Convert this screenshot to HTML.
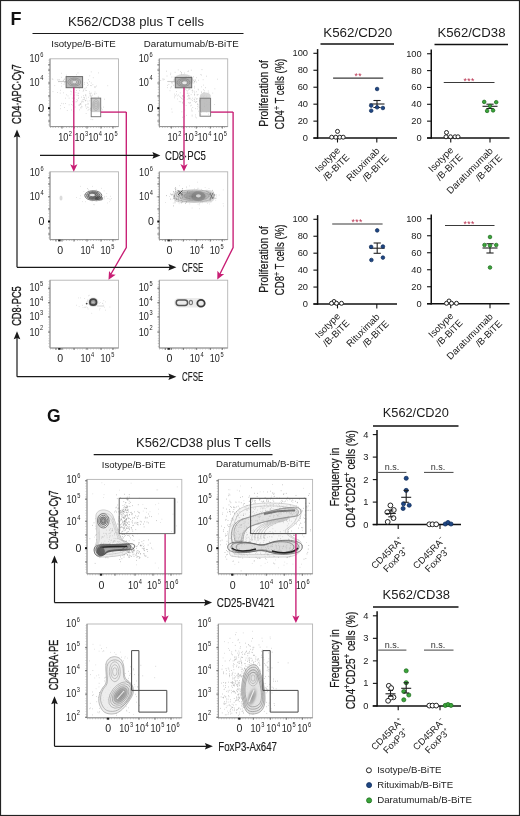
<!DOCTYPE html><html><head><meta charset="utf-8"><style>html,body{margin:0;padding:0;background:#fff;}svg{display:block;will-change:transform;}</style></head><body>
<svg width="520" height="816" viewBox="0 0 520 816" font-family='"Liberation Sans", sans-serif'>
<rect x="0" y="0" width="520" height="816" fill="#fff"/>
<defs><radialGradient id="gblob"><stop offset="0" stop-color="#555"/><stop offset="0.55" stop-color="#888"/><stop offset="1" stop-color="#ccc" stop-opacity="0"/></radialGradient><radialGradient id="gfaint"><stop offset="0" stop-color="#aaa"/><stop offset="1" stop-color="#ddd" stop-opacity="0"/></radialGradient></defs>
<rect x="0.5" y="0.5" width="519" height="815" fill="none" stroke="#222" stroke-width="1.2"/>
<text x="10.6" y="24.7" font-size="18" text-anchor="start" fill="#111" font-weight="bold" >F</text>
<text x="68" y="25.8" font-size="12" text-anchor="start" fill="#1a1a1a" textLength="136" lengthAdjust="spacingAndGlyphs" >K562/CD38 plus T cells</text>
<line x1="32.5" y1="33.5" x2="243.5" y2="33.5" stroke="#1a1a1a" stroke-width="1.1" />
<text x="51.2" y="46.5" font-size="8.7" text-anchor="start" fill="#1a1a1a" textLength="64.6" lengthAdjust="spacingAndGlyphs" >Isotype/B-BiTE</text>
<text x="143.75" y="46.5" font-size="8.7" text-anchor="start" fill="#1a1a1a" textLength="94.9" lengthAdjust="spacingAndGlyphs" >Daratumumab/B-BiTE</text>
<rect x="50" y="58.8" width="68.5" height="67.8" fill="none" stroke="#b4b4b4" stroke-width="0.9"/>
<line x1="50" y1="58.8" x2="50" y2="126.6" stroke="#8a8a8a" stroke-width="0.9" />
<line x1="50" y1="126.6" x2="118.5" y2="126.6" stroke="#8a8a8a" stroke-width="0.9" />
<line x1="49.1" y1="59.8" x2="49.1" y2="126.6" stroke="#aaa" stroke-width="1.2" stroke-dasharray="0.6 2.1"/>
<line x1="50" y1="127.5" x2="117.5" y2="127.5" stroke="#aaa" stroke-width="1.2" stroke-dasharray="0.6 2.1"/>
<line x1="48" y1="64.8" x2="50" y2="64.8" stroke="#555" stroke-width="0.8" />
<line x1="48" y1="70" x2="50" y2="70" stroke="#555" stroke-width="0.8" />
<line x1="48" y1="83" x2="50" y2="83" stroke="#555" stroke-width="0.8" />
<line x1="48" y1="96" x2="50" y2="96" stroke="#555" stroke-width="0.8" />
<line x1="48" y1="115" x2="50" y2="115" stroke="#555" stroke-width="0.8" />
<line x1="48" y1="121" x2="50" y2="121" stroke="#555" stroke-width="0.8" />
<line x1="62" y1="126.6" x2="62" y2="128.6" stroke="#555" stroke-width="0.8" />
<line x1="74" y1="126.6" x2="74" y2="128.6" stroke="#555" stroke-width="0.8" />
<line x1="87" y1="126.6" x2="87" y2="128.6" stroke="#555" stroke-width="0.8" />
<line x1="101" y1="126.6" x2="101" y2="128.6" stroke="#555" stroke-width="0.8" />
<line x1="113" y1="126.6" x2="113" y2="128.6" stroke="#555" stroke-width="0.8" />
<rect x="48" y="107.2" width="2" height="2" fill="#111"/>
<text transform="translate(29.50 61.9) scale(0.86 1)" font-size="10.6" fill="#1e1e1e">10<tspan font-size="6.6" dx="0.7" dy="-5.2">6</tspan></text>
<text transform="translate(29.50 85.5) scale(0.86 1)" font-size="10.6" fill="#1e1e1e">10<tspan font-size="6.6" dx="0.7" dy="-5.2">4</tspan></text>
<text transform="translate(38.30 111.9) scale(1.0 1)" font-size="10.6" fill="#1e1e1e">0</text>
<text transform="translate(58.15 141.2) scale(0.86 1)" font-size="10.6" fill="#1e1e1e">10<tspan font-size="6.6" dx="0.7" dy="-5.2">2</tspan></text>
<text transform="translate(74.40 141.2) scale(0.86 1)" font-size="10.6" fill="#1e1e1e">10<tspan font-size="6.6" dx="0.7" dy="-5.2">3</tspan></text>
<text transform="translate(88.15 141.2) scale(0.86 1)" font-size="10.6" fill="#1e1e1e">10<tspan font-size="6.6" dx="0.7" dy="-5.2">4</tspan></text>
<text transform="translate(103.80 141.2) scale(0.86 1)" font-size="10.6" fill="#1e1e1e">10<tspan font-size="6.6" dx="0.7" dy="-5.2">5</tspan></text>
<rect x="159.3" y="58.8" width="68.39999999999998" height="67.8" fill="none" stroke="#b4b4b4" stroke-width="0.9"/>
<line x1="159.3" y1="58.8" x2="159.3" y2="126.6" stroke="#8a8a8a" stroke-width="0.9" />
<line x1="159.3" y1="126.6" x2="227.7" y2="126.6" stroke="#8a8a8a" stroke-width="0.9" />
<line x1="158.4" y1="59.8" x2="158.4" y2="126.6" stroke="#aaa" stroke-width="1.2" stroke-dasharray="0.6 2.1"/>
<line x1="159.3" y1="127.5" x2="226.7" y2="127.5" stroke="#aaa" stroke-width="1.2" stroke-dasharray="0.6 2.1"/>
<line x1="157.3" y1="64.8" x2="159.3" y2="64.8" stroke="#555" stroke-width="0.8" />
<line x1="157.3" y1="70" x2="159.3" y2="70" stroke="#555" stroke-width="0.8" />
<line x1="157.3" y1="83" x2="159.3" y2="83" stroke="#555" stroke-width="0.8" />
<line x1="157.3" y1="96" x2="159.3" y2="96" stroke="#555" stroke-width="0.8" />
<line x1="157.3" y1="115" x2="159.3" y2="115" stroke="#555" stroke-width="0.8" />
<line x1="157.3" y1="121" x2="159.3" y2="121" stroke="#555" stroke-width="0.8" />
<line x1="171.3" y1="126.6" x2="171.3" y2="128.6" stroke="#555" stroke-width="0.8" />
<line x1="183.3" y1="126.6" x2="183.3" y2="128.6" stroke="#555" stroke-width="0.8" />
<line x1="196.3" y1="126.6" x2="196.3" y2="128.6" stroke="#555" stroke-width="0.8" />
<line x1="210.3" y1="126.6" x2="210.3" y2="128.6" stroke="#555" stroke-width="0.8" />
<line x1="222.3" y1="126.6" x2="222.3" y2="128.6" stroke="#555" stroke-width="0.8" />
<rect x="157.3" y="107.2" width="2" height="2" fill="#111"/>
<text transform="translate(138.80 61.9) scale(0.86 1)" font-size="10.6" fill="#1e1e1e">10<tspan font-size="6.6" dx="0.7" dy="-5.2">6</tspan></text>
<text transform="translate(138.80 85.5) scale(0.86 1)" font-size="10.6" fill="#1e1e1e">10<tspan font-size="6.6" dx="0.7" dy="-5.2">4</tspan></text>
<text transform="translate(147.60 111.9) scale(1.0 1)" font-size="10.6" fill="#1e1e1e">0</text>
<text transform="translate(167.45 141.2) scale(0.86 1)" font-size="10.6" fill="#1e1e1e">10<tspan font-size="6.6" dx="0.7" dy="-5.2">2</tspan></text>
<text transform="translate(183.70 141.2) scale(0.86 1)" font-size="10.6" fill="#1e1e1e">10<tspan font-size="6.6" dx="0.7" dy="-5.2">3</tspan></text>
<text transform="translate(197.45 141.2) scale(0.86 1)" font-size="10.6" fill="#1e1e1e">10<tspan font-size="6.6" dx="0.7" dy="-5.2">4</tspan></text>
<text transform="translate(213.10 141.2) scale(0.86 1)" font-size="10.6" fill="#1e1e1e">10<tspan font-size="6.6" dx="0.7" dy="-5.2">5</tspan></text>
<path d="M77.4 100.6h.6M77.7 93.2h.6M70.7 94.1h.6M91.1 99.8h.6M90.4 98.2h.6M83.9 97.7h.6M63.3 103.7h.6M85.1 100.5h.6M63.1 80.3h.6M71.1 91.8h.6M83.1 95.6h.6M85.2 90.2h.6M83.1 99.5h.6M73.4 111.5h.6M85.6 106.8h.6M73.8 89.3h.6M76.6 95.0h.6M86.3 98.2h.6M75.5 87.4h.6M74.8 107.0h.6M71.9 98.2h.6M84.3 82.6h.6M80.5 107.8h.6M59.9 93.1h.6M78.9 88.6h.6M85.0 95.4h.6M65.4 103.5h.6M86.7 104.5h.6M94.4 99.3h.6M81.2 84.3h.6M86.2 90.5h.6M75.5 84.6h.6M70.3 91.2h.6M92.9 77.7h.6M65.4 98.2h.6M94.4 101.2h.6M61.0 73.3h.6M83.6 89.4h.6M68.8 104.8h.6M91.0 97.4h.6M82.5 99.9h.6M95.9 101.6h.6M85.2 100.9h.6M64.3 107.5h.6M89.6 100.8h.6M60.3 90.3h.6M88.4 79.7h.6M78.2 105.2h.6M66.9 110.5h.6M85.5 94.6h.6M83.2 101.8h.6M81.2 106.3h.6M73.4 92.3h.6M90.4 96.2h.6M71.2 104.5h.6M94.7 92.0h.6M66.2 94.8h.6M78.5 93.3h.6M94.0 86.8h.6M92.6 84.6h.6M72.1 101.7h.6M91.3 103.7h.6M83.5 97.3h.6M81.5 101.2h.6M78.2 98.5h.6M85.7 96.0h.6M87.6 101.1h.6M100.1 98.9h.6M75.7 92.6h.6M79.9 104.3h.6M76.6 99.5h.6M98.4 72.9h.6M68.8 98.2h.6M84.0 98.1h.6M75.7 101.9h.6M82.8 91.3h.6M104.3 99.2h.6M74.5 95.1h.6M77.7 95.4h.6M52.7 91.6h.6M90.1 85.5h.6M79.3 104.6h.6M88.6 109.4h.6M63.0 92.8h.6M76.6 101.6h.6M90.9 71.9h.6M90.9 83.0h.6M86.8 82.6h.6M81.8 106.8h.6M78.5 97.7h.6M88.0 97.3h.6M79.1 109.8h.6M90.5 93.4h.6M107.5 85.7h.6M89.1 93.6h.6M81.3 102.3h.6M82.2 101.7h.6M64.7 82.4h.6M86.1 87.3h.6M69.7 82.8h.6M92.7 102.7h.6M94.7 87.6h.6M80.0 85.7h.6M87.7 110.3h.6M71.1 110.0h.6M89.9 94.4h.6M60.3 108.7h.6M79.0 90.6h.6M84.0 99.7h.6M95.0 86.8h.6M91.4 109.4h.6M94.5 94.4h.6M72.6 105.2h.6M81.2 97.1h.6M94.2 93.6h.6M57.0 92.5h.6M61.5 103.4h.6M83.2 90.5h.6M79.9 103.5h.6M80.8 107.9h.6M79.4 105.4h.6M94.9 110.5h.6M73.3 103.9h.6M61.2 86.2h.6M60.4 105.6h.6M67.7 95.9h.6M78.1 95.7h.6M74.1 98.1h.6M97.9 96.4h.6M85.3 105.0h.6M70.2 77.6h.6M67.0 85.8h.6M57.2 79.9h.6M81.1 84.8h.6M72.1 84.8h.6M73.5 77.9h.6M57.9 79.8h.6M80.3 80.0h.6M63.9 79.3h.6M58.2 81.6h.6M61.4 83.3h.6M66.2 75.2h.6M78.5 81.0h.6M51.9 78.9h.6M74.6 80.4h.6M79.0 84.6h.6M78.0 83.1h.6M84.0 84.3h.6M76.1 74.7h.6M80.1 86.6h.6M69.3 80.4h.6M89.5 75.8h.6M76.2 90.5h.6M63.7 84.4h.6M89.0 81.6h.6M77.1 85.2h.6M63.8 81.7h.6M74.6 84.9h.6M71.7 81.3h.6M62.9 80.7h.6M80.0 82.4h.6M64.3 79.1h.6M96.0 86.0h.6M77.7 72.9h.6M77.6 83.7h.6M87.2 83.5h.6M71.4 83.8h.6M54.5 85.6h.6M74.9 79.5h.6M83.9 88.3h.6M59.4 79.7h.6M74.6 82.6h.6M68.4 78.6h.6M91.1 85.6h.6M61.3 77.3h.6M87.3 85.5h.6M88.4 84.8h.6M64.2 82.9h.6M52.6 79.4h.6M91.6 107.1h.6M87.6 103.3h.6M94.8 106.3h.6M95.8 105.3h.6M90.1 108.7h.6M92.3 99.0h.6M88.2 104.0h.6M91.3 104.9h.6M92.0 105.1h.6M91.2 96.4h.6M94.5 110.3h.6M94.6 102.9h.6M94.7 98.2h.6M80.6 104.4h.6M86.4 108.4h.6M85.5 88.2h.6M85.8 113.5h.6M89.7 95.8h.6M87.4 107.1h.6M95.0 105.1h.6M100.9 108.2h.6M91.9 107.6h.6M101.9 109.8h.6M98.1 97.5h.6M91.1 108.4h.6M90.2 110.4h.6M95.6 109.4h.6M90.7 119.3h.6M99.4 102.7h.6M92.5 119.6h.6M89.9 109.2h.6M97.9 104.0h.6M85.0 105.1h.6M94.2 110.8h.6M96.7 104.1h.6M97.1 107.2h.6M93.2 104.3h.6M90.5 108.1h.6M85.7 100.2h.6M92.0 95.2h.6M89.4 91.9h.6M87.9 107.4h.6M95.4 103.7h.6M90.6 95.5h.6M103.0 107.1h.6M98.6 98.7h.6M90.9 93.1h.6M96.7 109.6h.6M80.6 103.7h.6M95.8 93.4h.6" stroke="#aaa" stroke-width="0.6" opacity="1.0" fill="none"/>
<path d="M58 81.5 H66" stroke="#ccc" stroke-width="1.1"/>
<path d="M171.0 86.4h.6M183.0 83.4h.6M189.6 98.2h.6M195.6 102.3h.6M204.3 106.5h.6M176.2 91.5h.6M178.7 86.3h.6M188.5 96.0h.6M194.2 81.7h.6M176.9 95.8h.6M187.3 93.2h.6M188.7 89.2h.6M196.3 99.2h.6M188.4 90.0h.6M187.6 71.5h.6M179.5 96.3h.6M174.3 97.8h.6M190.8 83.6h.6M186.8 93.2h.6M193.9 101.5h.6M188.9 88.3h.6M187.9 95.4h.6M196.6 98.6h.6M182.1 83.8h.6M185.6 89.3h.6M178.2 95.0h.6M184.4 96.9h.6M194.5 92.3h.6M212.5 93.1h.6M200.3 97.1h.6M200.5 74.6h.6M181.8 98.2h.6M195.3 117.0h.6M192.5 107.5h.6M197.0 104.5h.6M194.4 94.6h.6M194.4 86.3h.6M201.1 86.8h.6M191.8 115.1h.6M187.1 96.2h.6M200.9 96.2h.6M181.2 98.3h.6M195.1 102.4h.6M181.6 111.8h.6M206.0 96.2h.6M192.0 92.1h.6M203.4 89.7h.6M196.0 91.7h.6M182.4 102.5h.6M202.6 95.9h.6M182.5 103.3h.6M188.8 98.8h.6M204.5 106.2h.6M184.1 116.6h.6M189.3 103.1h.6M182.8 95.6h.6M171.8 112.1h.6M203.0 85.1h.6M174.2 81.4h.6M201.1 91.9h.6M188.7 93.2h.6M188.1 86.2h.6M189.5 83.1h.6M188.6 98.8h.6M194.0 93.9h.6M180.3 97.4h.6M184.5 110.1h.6M197.0 95.0h.6M184.6 89.7h.6M179.9 92.8h.6M192.2 100.6h.6M195.0 114.9h.6M182.3 96.1h.6M217.2 79.2h.6M184.1 97.5h.6M190.8 99.7h.6M186.9 99.3h.6M189.8 102.9h.6M170.4 88.0h.6M189.3 86.7h.6M178.9 101.6h.6M182.8 101.7h.6M196.8 98.8h.6M194.4 95.1h.6M175.2 95.7h.6M193.8 91.2h.6M188.3 102.7h.6M180.5 101.8h.6M207.9 91.0h.6M190.8 94.6h.6M204.7 98.8h.6M198.3 89.8h.6M189.1 95.9h.6M171.5 109.0h.6M198.3 80.3h.6M196.7 94.8h.6M193.8 99.3h.6M174.3 94.1h.6M204.2 90.8h.6M179.1 83.8h.6M177.1 99.0h.6M206.2 99.9h.6M191.8 116.1h.6M184.1 89.9h.6M194.6 100.9h.6M179.2 85.5h.6M192.2 98.2h.6M176.2 94.2h.6M183.9 100.1h.6M188.1 95.2h.6M185.8 105.5h.6M203.2 92.7h.6M197.8 89.2h.6M190.0 102.7h.6M204.4 92.6h.6M188.6 97.8h.6M174.3 96.1h.6M182.5 99.3h.6M178.0 78.2h.6M189.7 98.3h.6M183.8 104.0h.6M186.6 90.5h.6M194.1 81.9h.6M182.5 95.8h.6M197.8 94.5h.6M192.4 90.1h.6M192.3 111.0h.6M182.4 117.3h.6M182.9 96.2h.6M191.0 105.2h.6M170.2 74.6h.6M186.8 84.8h.6M186.9 91.2h.6M183.1 82.9h.6M189.7 83.3h.6M196.3 77.7h.6M177.9 69.9h.6M188.6 80.7h.6M189.6 89.5h.6M181.2 81.1h.6M176.8 79.1h.6M175.6 84.2h.6M181.6 82.2h.6M179.7 85.2h.6M185.7 81.5h.6M187.3 81.5h.6M170.9 87.1h.6M185.5 78.6h.6M191.0 83.2h.6M167.2 87.6h.6M184.3 85.1h.6M183.1 81.5h.6M167.4 85.4h.6M181.6 81.0h.6M184.5 82.3h.6M187.4 80.7h.6M181.0 74.5h.6M177.5 84.4h.6M193.3 80.7h.6M180.2 87.5h.6M178.4 84.6h.6M196.4 82.1h.6M192.3 79.5h.6M183.2 81.7h.6M182.3 86.0h.6M202.8 79.7h.6M176.1 83.7h.6M171.8 83.7h.6M186.4 81.0h.6M186.1 76.6h.6M188.1 76.6h.6M175.0 80.1h.6M177.7 85.0h.6M182.0 80.6h.6M186.2 87.5h.6M181.4 83.3h.6M192.5 82.9h.6M169.7 90.7h.6M201.2 75.1h.6M180.9 83.5h.6M207.1 108.0h.6M199.7 97.7h.6M201.9 110.2h.6M194.8 97.8h.6M201.2 92.4h.6M199.7 101.4h.6M204.0 99.8h.6M196.0 101.6h.6M201.0 100.0h.6M201.4 108.5h.6M208.4 114.2h.6M196.6 101.5h.6M186.4 115.4h.6M197.0 103.8h.6M204.4 95.8h.6M204.1 103.8h.6M190.3 105.8h.6M208.5 92.8h.6M206.1 105.3h.6M204.1 106.6h.6M209.1 102.7h.6M206.5 101.5h.6M205.7 99.1h.6M200.6 114.4h.6M204.0 103.1h.6M194.4 99.3h.6M202.5 109.6h.6M203.9 107.1h.6M201.0 112.1h.6M199.0 100.7h.6M206.6 104.4h.6M199.6 100.5h.6M199.8 107.7h.6M203.4 96.7h.6M203.9 105.1h.6M195.3 108.6h.6M199.6 102.0h.6M206.1 111.9h.6M197.2 106.6h.6M196.0 117.9h.6M198.3 111.2h.6M197.4 108.9h.6M214.6 88.8h.6M198.7 107.0h.6M200.7 100.0h.6M214.2 104.5h.6M191.4 109.1h.6M191.0 110.9h.6M197.8 104.9h.6M208.9 104.7h.6" stroke="#aaa" stroke-width="0.6" opacity="1.0" fill="none"/>
<path d="M167.3 81.5 H175.3" stroke="#ccc" stroke-width="1.1"/>
<rect x="66.1" y="76.6" width="16.5" height="11.1" fill="#a8a8a8" opacity="0.8"/>
<ellipse cx="74.3" cy="82.1" rx="6.50" ry="4.00" fill="none" stroke="#7a7a7a" stroke-width="0.6" opacity="0.9" transform="rotate(0 74.3 82.1)"/>
<ellipse cx="74.3" cy="82.1" rx="4.39" ry="2.70" fill="none" stroke="#7a7a7a" stroke-width="0.6" opacity="0.9" transform="rotate(0 74.3 82.1)"/>
<ellipse cx="74.3" cy="82.1" rx="2.27" ry="1.40" fill="none" stroke="#7a7a7a" stroke-width="0.6" opacity="0.9" transform="rotate(0 74.3 82.1)"/>
<ellipse cx="74.3" cy="82.1" rx="2" ry="1.3" fill="#ddd"/>
<rect x="66.1" y="76.6" width="16.5" height="11.1" fill="none" stroke="#666" stroke-width="0.95" />
<rect x="91.2" y="98.1" width="9.5" height="14" fill="#c8c8c8" opacity="0.9"/>
<ellipse cx="96" cy="105" rx="3.20" ry="5.50" fill="none" stroke="#999" stroke-width="0.55" opacity="0.8" transform="rotate(0 96 105)"/>
<ellipse cx="96" cy="105" rx="2.24" ry="3.85" fill="none" stroke="#999" stroke-width="0.55" opacity="0.8" transform="rotate(0 96 105)"/>
<ellipse cx="96" cy="105" rx="1.28" ry="2.20" fill="none" stroke="#999" stroke-width="0.55" opacity="0.8" transform="rotate(0 96 105)"/>
<rect x="91.2" y="98.1" width="9.5" height="18.6" fill="none" stroke="#777" stroke-width="0.95" />
<path d="M170.5 73.2h.6M193.6 83.0h.6M175.7 83.4h.6M187.5 82.6h.6M162.7 78.8h.6M191.1 82.9h.6M190.9 70.2h.6M184.5 82.0h.6M206.0 76.2h.6M180.0 80.1h.6M191.0 78.2h.6M193.3 76.8h.6M185.4 77.9h.6M184.4 77.2h.6M168.6 84.4h.6M185.7 77.8h.6M184.8 84.0h.6M174.2 79.6h.6M187.9 82.1h.6M180.0 71.6h.6M194.2 81.3h.6M183.1 78.9h.6M185.4 78.3h.6M173.8 77.0h.6M177.6 77.6h.6M172.6 82.5h.6M171.2 82.6h.6M173.9 81.4h.6M195.4 80.8h.6M176.4 80.2h.6M184.3 73.1h.6M177.5 80.7h.6M178.8 80.3h.6M189.6 83.1h.6M191.2 82.4h.6M180.4 79.9h.6M180.6 78.7h.6M181.4 73.1h.6M180.0 79.9h.6M174.2 79.9h.6M187.6 79.3h.6M201.7 69.6h.6M181.1 72.7h.6M191.8 90.6h.6M160.5 80.5h.6M187.7 78.8h.6M188.0 71.0h.6M190.7 81.5h.6M183.2 77.6h.6M188.7 78.1h.6M185.0 78.0h.6M162.8 79.9h.6M184.8 83.0h.6M175.1 79.9h.6M188.6 80.6h.6M194.2 88.0h.6M174.8 72.3h.6M190.7 86.1h.6M191.3 83.3h.6M177.4 77.1h.6M191.0 76.4h.6M166.7 76.0h.6M205.4 87.7h.6M176.8 77.1h.6M185.1 77.0h.6M194.8 79.7h.6M173.2 85.2h.6M177.8 80.9h.6M182.9 78.7h.6M185.9 77.2h.6M166.4 71.2h.6M171.6 77.0h.6M182.8 80.2h.6M188.0 80.5h.6M175.9 77.2h.6M163.9 79.3h.6M187.4 82.1h.6M181.9 79.3h.6M191.4 80.1h.6M189.6 82.3h.6" stroke="#999" stroke-width="0.6" opacity="1.0" fill="none"/>
<ellipse cx="183.5" cy="80" rx="10" ry="6" fill="#c8c8c8" opacity="0.7"/>
<rect x="175.3" y="77.4" width="16.4" height="10.4" fill="#a0a0a0" opacity="0.8"/>
<ellipse cx="183.5" cy="82.5" rx="6.50" ry="4.00" fill="none" stroke="#777" stroke-width="0.6" opacity="0.9" transform="rotate(0 183.5 82.5)"/>
<ellipse cx="183.5" cy="82.5" rx="4.39" ry="2.70" fill="none" stroke="#777" stroke-width="0.6" opacity="0.9" transform="rotate(0 183.5 82.5)"/>
<ellipse cx="183.5" cy="82.5" rx="2.27" ry="1.40" fill="none" stroke="#777" stroke-width="0.6" opacity="0.9" transform="rotate(0 183.5 82.5)"/>
<ellipse cx="184.5" cy="82.8" rx="2.3" ry="1.5" fill="#e8e8e8"/>
<rect x="175.3" y="77.4" width="16.4" height="10.4" fill="none" stroke="#666" stroke-width="0.95" />
<ellipse cx="205.3" cy="96" rx="5.5" ry="3.5" fill="#c8c8c8" opacity="0.7"/>
<rect x="200" y="98.2" width="10.6" height="14" fill="#b8b8b8" opacity="0.9"/>
<rect x="200" y="98.2" width="10.6" height="18" fill="none" stroke="#777" stroke-width="0.95" />
<rect x="50" y="171.8" width="68.5" height="67.79999999999998" fill="none" stroke="#b4b4b4" stroke-width="0.9"/>
<line x1="50" y1="171.8" x2="50" y2="239.6" stroke="#8a8a8a" stroke-width="0.9" />
<line x1="50" y1="239.6" x2="118.5" y2="239.6" stroke="#8a8a8a" stroke-width="0.9" />
<line x1="49.1" y1="172.8" x2="49.1" y2="239.6" stroke="#aaa" stroke-width="1.2" stroke-dasharray="0.6 2.1"/>
<line x1="50" y1="240.5" x2="117.5" y2="240.5" stroke="#aaa" stroke-width="1.2" stroke-dasharray="0.6 2.1"/>
<line x1="48" y1="177.8" x2="50" y2="177.8" stroke="#555" stroke-width="0.8" />
<line x1="48" y1="184" x2="50" y2="184" stroke="#555" stroke-width="0.8" />
<line x1="48" y1="196.7" x2="50" y2="196.7" stroke="#555" stroke-width="0.8" />
<line x1="48" y1="209" x2="50" y2="209" stroke="#555" stroke-width="0.8" />
<line x1="48" y1="228" x2="50" y2="228" stroke="#555" stroke-width="0.8" />
<line x1="48" y1="234" x2="50" y2="234" stroke="#555" stroke-width="0.8" />
<line x1="56" y1="239.6" x2="56" y2="241.6" stroke="#555" stroke-width="0.8" />
<line x1="62" y1="239.6" x2="62" y2="241.6" stroke="#555" stroke-width="0.8" />
<line x1="74" y1="239.6" x2="74" y2="241.6" stroke="#555" stroke-width="0.8" />
<line x1="87" y1="239.6" x2="87" y2="241.6" stroke="#555" stroke-width="0.8" />
<line x1="101" y1="239.6" x2="101" y2="241.6" stroke="#555" stroke-width="0.8" />
<line x1="113" y1="239.6" x2="113" y2="241.6" stroke="#555" stroke-width="0.8" />
<rect x="48" y="220.5" width="2" height="2" fill="#111"/>
<rect x="58.199999999999996" y="239.6" width="2.4" height="1.8" fill="#222"/>
<text transform="translate(29.80 175.8) scale(0.86 1)" font-size="10.6" fill="#1e1e1e">10<tspan font-size="6.6" dx="0.7" dy="-5.2">6</tspan></text>
<text transform="translate(29.80 199.7) scale(0.86 1)" font-size="10.6" fill="#1e1e1e">10<tspan font-size="6.6" dx="0.7" dy="-5.2">4</tspan></text>
<text transform="translate(38.60 224.8) scale(1.0 1)" font-size="10.6" fill="#1e1e1e">0</text>
<text transform="translate(57.30 254.2) scale(1.0 1)" font-size="10.6" fill="#1e1e1e">0</text>
<text transform="translate(80.40 254.2) scale(0.86 1)" font-size="10.6" fill="#1e1e1e">10<tspan font-size="6.6" dx="0.7" dy="-5.2">4</tspan></text>
<text transform="translate(100.50 254.2) scale(0.86 1)" font-size="10.6" fill="#1e1e1e">10<tspan font-size="6.6" dx="0.7" dy="-5.2">5</tspan></text>
<rect x="159.3" y="171.8" width="68.39999999999998" height="67.79999999999998" fill="none" stroke="#b4b4b4" stroke-width="0.9"/>
<line x1="159.3" y1="171.8" x2="159.3" y2="239.6" stroke="#8a8a8a" stroke-width="0.9" />
<line x1="159.3" y1="239.6" x2="227.7" y2="239.6" stroke="#8a8a8a" stroke-width="0.9" />
<line x1="158.4" y1="172.8" x2="158.4" y2="239.6" stroke="#aaa" stroke-width="1.2" stroke-dasharray="0.6 2.1"/>
<line x1="159.3" y1="240.5" x2="226.7" y2="240.5" stroke="#aaa" stroke-width="1.2" stroke-dasharray="0.6 2.1"/>
<line x1="157.3" y1="177.8" x2="159.3" y2="177.8" stroke="#555" stroke-width="0.8" />
<line x1="157.3" y1="184" x2="159.3" y2="184" stroke="#555" stroke-width="0.8" />
<line x1="157.3" y1="196.7" x2="159.3" y2="196.7" stroke="#555" stroke-width="0.8" />
<line x1="157.3" y1="209" x2="159.3" y2="209" stroke="#555" stroke-width="0.8" />
<line x1="157.3" y1="228" x2="159.3" y2="228" stroke="#555" stroke-width="0.8" />
<line x1="157.3" y1="234" x2="159.3" y2="234" stroke="#555" stroke-width="0.8" />
<line x1="165.3" y1="239.6" x2="165.3" y2="241.6" stroke="#555" stroke-width="0.8" />
<line x1="171.3" y1="239.6" x2="171.3" y2="241.6" stroke="#555" stroke-width="0.8" />
<line x1="183.3" y1="239.6" x2="183.3" y2="241.6" stroke="#555" stroke-width="0.8" />
<line x1="196.3" y1="239.6" x2="196.3" y2="241.6" stroke="#555" stroke-width="0.8" />
<line x1="210.3" y1="239.6" x2="210.3" y2="241.6" stroke="#555" stroke-width="0.8" />
<line x1="222.3" y1="239.6" x2="222.3" y2="241.6" stroke="#555" stroke-width="0.8" />
<rect x="157.3" y="220.5" width="2" height="2" fill="#111"/>
<rect x="167.50000000000003" y="239.6" width="2.4" height="1.8" fill="#222"/>
<text transform="translate(139.10 175.8) scale(0.86 1)" font-size="10.6" fill="#1e1e1e">10<tspan font-size="6.6" dx="0.7" dy="-5.2">6</tspan></text>
<text transform="translate(139.10 199.7) scale(0.86 1)" font-size="10.6" fill="#1e1e1e">10<tspan font-size="6.6" dx="0.7" dy="-5.2">4</tspan></text>
<text transform="translate(147.90 224.8) scale(1.0 1)" font-size="10.6" fill="#1e1e1e">0</text>
<text transform="translate(166.60 254.2) scale(1.0 1)" font-size="10.6" fill="#1e1e1e">0</text>
<text transform="translate(189.70 254.2) scale(0.86 1)" font-size="10.6" fill="#1e1e1e">10<tspan font-size="6.6" dx="0.7" dy="-5.2">4</tspan></text>
<text transform="translate(209.80 254.2) scale(0.86 1)" font-size="10.6" fill="#1e1e1e">10<tspan font-size="6.6" dx="0.7" dy="-5.2">5</tspan></text>
<path d="M94.9 201.2h.6M87.8 194.6h.6M85.7 192.8h.6M107.0 203.0h.6M93.2 198.3h.6M103.6 199.2h.6M103.8 190.9h.6M87.2 197.8h.6M105.9 196.4h.6M85.3 194.6h.6M87.1 192.6h.6M106.5 193.5h.6M93.2 204.6h.6M103.7 197.3h.6M87.5 197.6h.6M107.6 198.5h.6M104.4 196.4h.6M97.6 195.2h.6M96.8 201.2h.6M80.1 195.7h.6M95.2 193.7h.6M90.2 199.1h.6M111.0 198.5h.6M95.9 189.8h.6M110.3 196.3h.6M92.7 191.5h.6M92.5 191.6h.6M93.6 197.9h.6M93.3 197.1h.6M85.3 201.7h.6M87.1 188.7h.6M91.3 192.9h.6M83.9 194.6h.6M95.6 191.3h.6M91.8 201.7h.6M99.1 195.4h.6M94.1 195.5h.6M92.6 198.9h.6M92.2 186.4h.6M92.8 192.4h.6M98.9 193.6h.6M94.3 204.7h.6M83.6 191.5h.6M80.3 186.4h.6M76.1 197.5h.6M87.3 188.5h.6M79.7 198.5h.6M86.0 194.5h.6M96.0 201.4h.6M110.5 200.1h.6M94.3 196.7h.6M109.2 201.7h.6M90.2 197.8h.6M95.6 196.2h.6M88.5 190.7h.6M88.2 189.8h.6M104.0 198.1h.6M82.1 201.6h.6M101.0 188.4h.6M109.6 199.2h.6" stroke="#bbb" stroke-width="0.6" opacity="1.0" fill="none"/>
<ellipse cx="93.3" cy="195.8" rx="9.5" ry="5.5" fill="url(#gblob)" opacity="0.75" transform="rotate(0 93.3 195.8)"/>
<ellipse cx="93.3" cy="195.5" rx="8.50" ry="4.80" fill="none" stroke="#3a3a3a" stroke-width="0.8" opacity="0.85" transform="rotate(0 93.3 195.5)"/>
<ellipse cx="93.3" cy="195.5" rx="6.66" ry="3.76" fill="none" stroke="#3a3a3a" stroke-width="0.8" opacity="0.85" transform="rotate(0 93.3 195.5)"/>
<ellipse cx="93.3" cy="195.5" rx="4.82" ry="2.72" fill="none" stroke="#3a3a3a" stroke-width="0.8" opacity="0.85" transform="rotate(0 93.3 195.5)"/>
<ellipse cx="93.3" cy="195.5" rx="2.97" ry="1.68" fill="none" stroke="#3a3a3a" stroke-width="0.8" opacity="0.85" transform="rotate(0 93.3 195.5)"/>
<ellipse cx="92.3" cy="195" rx="2.6" ry="1.2" fill="#fff" opacity="0.8"/>
<ellipse cx="99" cy="198.5" rx="4" ry="2.2" fill="#333" opacity="0.6"/>
<ellipse cx="61" cy="198" rx="1.5" ry="2.5" fill="#ccc" opacity="0.7"/>
<path d="M222.9 189.8h.6M201.4 198.1h.6M196.8 196.9h.6M208.7 188.5h.6M176.6 189.0h.6M186.2 193.0h.6M199.1 197.3h.6M194.4 192.6h.6M187.8 200.8h.6M204.7 196.5h.6M189.5 203.8h.6M185.7 199.2h.6M210.2 194.7h.6M205.6 190.4h.6M208.2 197.0h.6M171.8 199.3h.6M181.5 202.4h.6M184.5 195.2h.6M198.0 194.3h.6M197.6 193.2h.6M203.4 196.0h.6M197.0 182.2h.6M210.3 196.2h.6M169.0 196.5h.6M200.5 201.4h.6M178.8 203.7h.6M191.8 208.0h.6M192.0 199.4h.6M188.9 190.4h.6M209.4 200.5h.6M215.5 200.3h.6M186.0 187.7h.6M184.9 192.6h.6M182.6 198.9h.6M198.6 194.7h.6M196.4 195.3h.6M197.0 199.8h.6M207.4 192.6h.6M172.9 203.1h.6M195.6 201.5h.6M171.0 194.4h.6M194.4 188.8h.6M186.8 199.6h.6M209.1 204.0h.6M181.9 189.0h.6M201.3 200.7h.6M196.7 189.5h.6M204.9 200.0h.6M201.7 193.6h.6M198.3 200.0h.6M186.2 186.8h.6M198.6 198.4h.6M194.2 200.4h.6M185.8 195.6h.6M189.7 198.9h.6M216.3 194.7h.6M222.8 203.6h.6M205.1 198.9h.6M218.8 195.1h.6M192.4 190.7h.6M200.6 202.7h.6M201.5 198.1h.6M191.2 196.8h.6M174.0 201.2h.6M188.3 190.5h.6M183.5 191.9h.6M206.0 201.3h.6M175.0 200.6h.6M206.4 193.1h.6M173.2 192.3h.6M185.1 197.7h.6M189.0 185.9h.6M197.3 188.3h.6M206.7 190.0h.6M184.3 191.7h.6M186.4 202.5h.6M205.9 199.0h.6M198.5 188.3h.6M186.7 193.2h.6M180.3 198.5h.6M183.6 192.5h.6M179.4 185.7h.6M202.3 202.7h.6M196.4 191.1h.6M156.1 196.9h.6M211.0 197.5h.6M207.0 203.4h.6M209.8 193.8h.6M208.7 199.9h.6M172.5 194.0h.6M174.1 195.5h.6M202.1 190.7h.6M165.2 202.5h.6M199.3 203.4h.6M175.5 201.3h.6M223.0 206.0h.6M191.1 197.3h.6M191.8 201.0h.6M208.5 196.4h.6M175.0 199.7h.6M187.4 199.1h.6M197.7 204.1h.6M209.9 193.7h.6M198.9 204.8h.6M186.5 198.2h.6M210.7 202.3h.6M201.3 189.4h.6M176.3 197.2h.6M199.4 208.7h.6M181.9 201.7h.6M204.8 187.6h.6M182.5 196.8h.6M187.1 195.2h.6M200.6 192.0h.6M200.5 192.8h.6M186.4 198.7h.6M186.0 197.4h.6M216.4 196.1h.6M192.0 199.7h.6M188.9 201.4h.6" stroke="#bbb" stroke-width="0.6" opacity="1.0" fill="none"/>
<rect x="173" y="190" width="42" height="12.5" rx="6" fill="#bbb" opacity="0.55"/>
<ellipse cx="195" cy="196" rx="20" ry="7" fill="url(#gblob)" opacity="0.6" transform="rotate(0 195 196)"/>
<ellipse cx="198.4" cy="196.2" rx="7" ry="5" fill="#777" opacity="0.55"/>
<ellipse cx="198.4" cy="195.8" rx="2.5" ry="1.6" fill="#ddd" opacity="0.9"/>
<ellipse cx="194" cy="196" rx="20.00" ry="6.20" fill="none" stroke="#888" stroke-width="0.6" opacity="0.7" transform="rotate(0 194 196)"/>
<ellipse cx="194" cy="196" rx="15.00" ry="4.65" fill="none" stroke="#888" stroke-width="0.6" opacity="0.7" transform="rotate(0 194 196)"/>
<ellipse cx="194" cy="196" rx="10.00" ry="3.10" fill="none" stroke="#888" stroke-width="0.6" opacity="0.7" transform="rotate(0 194 196)"/>
<path d="M173.6 198.5h.6M177.4 192.8h.6M188.8 192.6h.6M188.8 198.6h.6M187.3 192.1h.6M186.0 201.8h.6M179.4 195.5h.6M192.3 196.7h.6M177.9 193.5h.6M182.2 197.3h.6M180.9 202.9h.6M178.4 197.9h.6M187.3 192.0h.6M185.2 203.3h.6M173.2 191.6h.6M174.8 188.6h.6M182.3 188.6h.6M182.5 201.8h.6M171.9 194.7h.6M170.4 199.1h.6M176.3 194.9h.6M180.3 198.2h.6M178.3 196.1h.6M177.3 196.5h.6M174.1 196.3h.6M170.3 194.0h.6M189.6 196.3h.6M173.7 197.0h.6M175.1 189.4h.6M176.3 198.9h.6M181.9 195.6h.6M175.4 191.7h.6M186.7 197.0h.6M175.2 187.6h.6M173.2 205.9h.6M174.3 195.7h.6M181.1 195.4h.6M178.6 190.5h.6M174.7 202.8h.6M176.2 199.4h.6M171.5 194.9h.6M181.3 200.1h.6M174.4 198.4h.6M181.9 193.0h.6M182.4 192.4h.6M176.0 195.9h.6M166.4 195.6h.6M175.0 190.1h.6M177.9 199.1h.6M178.0 201.1h.6M207.5 193.1h.6M215.7 198.2h.6M213.8 194.5h.6M213.4 197.8h.6M212.9 197.1h.6M214.6 195.1h.6M208.1 192.6h.6M214.5 194.8h.6M207.9 194.2h.6M209.7 193.2h.6M210.1 195.1h.6M209.3 194.1h.6M211.1 195.6h.6M211.3 197.7h.6M212.0 190.4h.6M209.4 194.6h.6M213.3 192.3h.6M208.9 196.1h.6M210.0 200.0h.6M209.7 199.9h.6M206.6 191.6h.6M214.7 198.3h.6M212.5 197.4h.6M212.5 193.4h.6M213.8 195.4h.6" stroke="#666" stroke-width="0.6" opacity="1.0" fill="none"/>
<path d="M178 190.5 L182.5 195 M182.5 190.5 L178 195" stroke="#444" stroke-width="0.9"/>
<path d="M210 193 L213 199 M213 193 L210 199" stroke="#666" stroke-width="0.8"/>
<rect x="50" y="280.2" width="68.5" height="67.80000000000001" fill="none" stroke="#b4b4b4" stroke-width="0.9"/>
<line x1="50" y1="280.2" x2="50" y2="348" stroke="#8a8a8a" stroke-width="0.9" />
<line x1="50" y1="348" x2="118.5" y2="348" stroke="#8a8a8a" stroke-width="0.9" />
<line x1="49.1" y1="281.2" x2="49.1" y2="348" stroke="#aaa" stroke-width="1.2" stroke-dasharray="0.6 2.1"/>
<line x1="50" y1="348.9" x2="117.5" y2="348.9" stroke="#aaa" stroke-width="1.2" stroke-dasharray="0.6 2.1"/>
<line x1="48" y1="288.3" x2="50" y2="288.3" stroke="#555" stroke-width="0.8" />
<line x1="48" y1="302.7" x2="50" y2="302.7" stroke="#555" stroke-width="0.8" />
<line x1="48" y1="317" x2="50" y2="317" stroke="#555" stroke-width="0.8" />
<line x1="48" y1="332" x2="50" y2="332" stroke="#555" stroke-width="0.8" />
<line x1="56" y1="348" x2="56" y2="350" stroke="#555" stroke-width="0.8" />
<line x1="62" y1="348" x2="62" y2="350" stroke="#555" stroke-width="0.8" />
<line x1="74" y1="348" x2="74" y2="350" stroke="#555" stroke-width="0.8" />
<line x1="87" y1="348" x2="87" y2="350" stroke="#555" stroke-width="0.8" />
<line x1="101" y1="348" x2="101" y2="350" stroke="#555" stroke-width="0.8" />
<line x1="113" y1="348" x2="113" y2="350" stroke="#555" stroke-width="0.8" />
<rect x="58.199999999999996" y="348" width="2.4" height="1.8" fill="#222"/>
<text transform="translate(29.40 291.4) scale(0.86 1)" font-size="10.6" fill="#1e1e1e">10<tspan font-size="6.6" dx="0.7" dy="-5.2">5</tspan></text>
<text transform="translate(29.40 305.7) scale(0.86 1)" font-size="10.6" fill="#1e1e1e">10<tspan font-size="6.6" dx="0.7" dy="-5.2">4</tspan></text>
<text transform="translate(29.40 320.4) scale(0.86 1)" font-size="10.6" fill="#1e1e1e">10<tspan font-size="6.6" dx="0.7" dy="-5.2">3</tspan></text>
<text transform="translate(29.40 335.5) scale(0.86 1)" font-size="10.6" fill="#1e1e1e">10<tspan font-size="6.6" dx="0.7" dy="-5.2">2</tspan></text>
<text transform="translate(57.30 362.3) scale(1.0 1)" font-size="10.6" fill="#1e1e1e">0</text>
<text transform="translate(80.40 362.3) scale(0.86 1)" font-size="10.6" fill="#1e1e1e">10<tspan font-size="6.6" dx="0.7" dy="-5.2">4</tspan></text>
<text transform="translate(100.50 362.3) scale(0.86 1)" font-size="10.6" fill="#1e1e1e">10<tspan font-size="6.6" dx="0.7" dy="-5.2">5</tspan></text>
<rect x="159.3" y="280.2" width="68.39999999999998" height="67.80000000000001" fill="none" stroke="#b4b4b4" stroke-width="0.9"/>
<line x1="159.3" y1="280.2" x2="159.3" y2="348" stroke="#8a8a8a" stroke-width="0.9" />
<line x1="159.3" y1="348" x2="227.7" y2="348" stroke="#8a8a8a" stroke-width="0.9" />
<line x1="158.4" y1="281.2" x2="158.4" y2="348" stroke="#aaa" stroke-width="1.2" stroke-dasharray="0.6 2.1"/>
<line x1="159.3" y1="348.9" x2="226.7" y2="348.9" stroke="#aaa" stroke-width="1.2" stroke-dasharray="0.6 2.1"/>
<line x1="157.3" y1="288.3" x2="159.3" y2="288.3" stroke="#555" stroke-width="0.8" />
<line x1="157.3" y1="302.7" x2="159.3" y2="302.7" stroke="#555" stroke-width="0.8" />
<line x1="157.3" y1="317" x2="159.3" y2="317" stroke="#555" stroke-width="0.8" />
<line x1="157.3" y1="332" x2="159.3" y2="332" stroke="#555" stroke-width="0.8" />
<line x1="165.3" y1="348" x2="165.3" y2="350" stroke="#555" stroke-width="0.8" />
<line x1="171.3" y1="348" x2="171.3" y2="350" stroke="#555" stroke-width="0.8" />
<line x1="183.3" y1="348" x2="183.3" y2="350" stroke="#555" stroke-width="0.8" />
<line x1="196.3" y1="348" x2="196.3" y2="350" stroke="#555" stroke-width="0.8" />
<line x1="210.3" y1="348" x2="210.3" y2="350" stroke="#555" stroke-width="0.8" />
<line x1="222.3" y1="348" x2="222.3" y2="350" stroke="#555" stroke-width="0.8" />
<rect x="167.50000000000003" y="348" width="2.4" height="1.8" fill="#222"/>
<text transform="translate(138.70 291.4) scale(0.86 1)" font-size="10.6" fill="#1e1e1e">10<tspan font-size="6.6" dx="0.7" dy="-5.2">5</tspan></text>
<text transform="translate(138.70 305.7) scale(0.86 1)" font-size="10.6" fill="#1e1e1e">10<tspan font-size="6.6" dx="0.7" dy="-5.2">4</tspan></text>
<text transform="translate(138.70 320.4) scale(0.86 1)" font-size="10.6" fill="#1e1e1e">10<tspan font-size="6.6" dx="0.7" dy="-5.2">3</tspan></text>
<text transform="translate(138.70 335.5) scale(0.86 1)" font-size="10.6" fill="#1e1e1e">10<tspan font-size="6.6" dx="0.7" dy="-5.2">2</tspan></text>
<text transform="translate(166.60 362.3) scale(1.0 1)" font-size="10.6" fill="#1e1e1e">0</text>
<text transform="translate(189.70 362.3) scale(0.86 1)" font-size="10.6" fill="#1e1e1e">10<tspan font-size="6.6" dx="0.7" dy="-5.2">4</tspan></text>
<text transform="translate(209.80 362.3) scale(0.86 1)" font-size="10.6" fill="#1e1e1e">10<tspan font-size="6.6" dx="0.7" dy="-5.2">5</tspan></text>
<path d="M98.9 303.4h.6M78.2 297.9h.6M99.9 302.5h.6M89.2 304.0h.6M89.0 300.8h.6M92.7 303.6h.6M102.6 303.2h.6M105.2 310.2h.6M104.0 307.2h.6M92.9 303.5h.6M91.0 300.1h.6M91.5 300.4h.6M103.5 305.1h.6M88.9 295.3h.6M91.6 301.3h.6M84.4 298.5h.6M76.2 305.3h.6M91.5 313.3h.6M91.8 302.4h.6M102.1 303.5h.6M93.2 301.5h.6M87.8 309.0h.6M99.0 309.9h.6M89.6 303.1h.6M85.8 306.9h.6M82.2 305.3h.6M99.7 308.6h.6M85.4 307.4h.6M87.0 300.0h.6M82.7 307.6h.6M103.5 300.6h.6M86.7 301.6h.6M109.6 307.0h.6M88.2 295.8h.6M87.3 307.7h.6M105.1 301.9h.6M87.2 301.0h.6M78.8 306.6h.6M84.4 307.3h.6M80.0 297.9h.6" stroke="#bbb" stroke-width="0.6" opacity="1.0" fill="none"/>
<ellipse cx="93.2" cy="302.2" rx="6" ry="5.5" fill="url(#gblob)" opacity="0.7" transform="rotate(0 93.2 302.2)"/>
<ellipse cx="93.2" cy="302.2" rx="3.3" ry="3" fill="none" stroke="#444" stroke-width="1.7"/>
<ellipse cx="93.2" cy="302.2" rx="1.3" ry="1" fill="#bbb"/>
<circle cx="86.7" cy="303.6" r="0.9" fill="#444"/>
<path d="M97 306 H104" stroke="#ccc" stroke-width="0.8"/>
<rect x="174" y="298" width="31" height="9.5" rx="4.7" fill="#ddd" opacity="0.6"/>
<rect x="176.2" y="300" width="11.4" height="5.4" rx="2.7" fill="none" stroke="#555" stroke-width="1.5"/>
<ellipse cx="190.9" cy="302.6" rx="1.6" ry="2.2" fill="none" stroke="#777" stroke-width="1.1"/>
<ellipse cx="201" cy="303.2" rx="3.7" ry="3.4" fill="none" stroke="#3a3a3a" stroke-width="1.8"/>
<line x1="73.8" y1="87.5" x2="73.8" y2="166" stroke="#c81d74" stroke-width="1.35" />
<polygon points="73.80,171.80 70.20,164.30 73.80,166.10 77.40,164.30" fill="#c81d74"/>
<line x1="100.8" y1="112.1" x2="126.3" y2="112.1" stroke="#c81d74" stroke-width="1.35" />
<polyline points="126.3,112.1 126.3,247.5 111,274" fill="none" stroke="#c81d74" stroke-width="1.35"/>
<polygon points="108.50,279.80 109.03,270.96 111.49,274.37 115.69,274.63" fill="#c81d74"/>
<line x1="184" y1="87.5" x2="184" y2="166" stroke="#c81d74" stroke-width="1.35" />
<polygon points="184.00,171.60 180.40,164.10 184.00,165.90 187.60,164.10" fill="#c81d74"/>
<line x1="210.8" y1="112.1" x2="233.1" y2="112.1" stroke="#c81d74" stroke-width="1.35" />
<polyline points="233.1,112.1 233.1,247.5 219.8,274.2" fill="none" stroke="#c81d74" stroke-width="1.35"/>
<polygon points="217.30,279.60 217.42,270.74 220.04,274.04 224.24,274.10" fill="#c81d74"/>
<line x1="17" y1="134" x2="17" y2="267.3" stroke="#1a1a1a" stroke-width="1.2" />
<line x1="17" y1="267.3" x2="172" y2="267.3" stroke="#1a1a1a" stroke-width="1.2" />
<polygon points="17,129.5 13.7,137.5 17,136.2 20.3,137.5" fill="#1a1a1a"/>
<polygon points="176.4,267.3 168.4,264.0 169.70000000000002,267.3 168.4,270.6" fill="#1a1a1a"/>
<line x1="40" y1="155.4" x2="156" y2="155.4" stroke="#1a1a1a" stroke-width="1.2" />
<polygon points="160.4,155.4 152.4,152.1 153.70000000000002,155.4 152.4,158.70000000000002" fill="#1a1a1a"/>
<text x="165" y="159.7" font-size="12.3" text-anchor="start" fill="#1a1a1a" textLength="40.9" lengthAdjust="spacingAndGlyphs" stroke="#1a1a1a" stroke-width="0.15">CD8·PC5</text>
<text x="182.1" y="272.4" font-size="12.3" text-anchor="start" fill="#1a1a1a" textLength="21.1" lengthAdjust="spacingAndGlyphs" stroke="#1a1a1a" stroke-width="0.15">CFSE</text>
<line x1="17" y1="335" x2="17" y2="376.7" stroke="#1a1a1a" stroke-width="1.2" />
<line x1="17" y1="376.7" x2="172" y2="376.7" stroke="#1a1a1a" stroke-width="1.2" />
<polygon points="17,331.2 13.7,339.2 17,337.9 20.3,339.2" fill="#1a1a1a"/>
<polygon points="176.4,376.7 168.4,373.4 169.70000000000002,376.7 168.4,380.0" fill="#1a1a1a"/>
<text x="182.1" y="381.3" font-size="12.3" text-anchor="start" fill="#1a1a1a" textLength="21.1" lengthAdjust="spacingAndGlyphs" stroke="#1a1a1a" stroke-width="0.15">CFSE</text>
<text x="21.4" y="123.9" font-size="12.3" text-anchor="start" fill="#1a1a1a" textLength="59.6" lengthAdjust="spacingAndGlyphs" transform="rotate(-90 21.4 123.9)" stroke="#1a1a1a" stroke-width="0.35">CD4·APC·Cy7</text>
<text x="21.3" y="325.8" font-size="12.3" text-anchor="start" fill="#1a1a1a" textLength="39.5" lengthAdjust="spacingAndGlyphs" transform="rotate(-90 21.3 325.8)" stroke="#1a1a1a" stroke-width="0.35">CD8·PC5</text>
<text x="323.3" y="36.6" font-size="12.3" text-anchor="start" fill="#1a1a1a" textLength="69" lengthAdjust="spacingAndGlyphs" >K562/CD20</text>
<line x1="320.5" y1="44" x2="394" y2="44" stroke="#111" stroke-width="1.4" />
<text x="437.5" y="37" font-size="12.3" text-anchor="start" fill="#1a1a1a" textLength="68" lengthAdjust="spacingAndGlyphs" >K562/CD38</text>
<line x1="434.5" y1="44.5" x2="508" y2="44.5" stroke="#111" stroke-width="1.4" />
<line x1="317.6" y1="49.099999999999994" x2="317.6" y2="138.79999999999998" stroke="#111" stroke-width="1.5" />
<line x1="313.40000000000003" y1="138.1" x2="397" y2="138.1" stroke="#111" stroke-width="1.5" />
<line x1="313.40000000000003" y1="53.3" x2="317.6" y2="53.3" stroke="#111" stroke-width="1.1" />
<text x="308.0" y="56.199999999999996" font-size="9.3" text-anchor="end" fill="#1a1a1a" >100</text>
<line x1="313.40000000000003" y1="70.25999999999999" x2="317.6" y2="70.25999999999999" stroke="#111" stroke-width="1.1" />
<text x="308.0" y="73.16" font-size="9.3" text-anchor="end" fill="#1a1a1a" >80</text>
<line x1="313.40000000000003" y1="87.22" x2="317.6" y2="87.22" stroke="#111" stroke-width="1.1" />
<text x="308.0" y="90.12" font-size="9.3" text-anchor="end" fill="#1a1a1a" >60</text>
<line x1="313.40000000000003" y1="104.18" x2="317.6" y2="104.18" stroke="#111" stroke-width="1.1" />
<text x="308.0" y="107.08000000000001" font-size="9.3" text-anchor="end" fill="#1a1a1a" >40</text>
<line x1="313.40000000000003" y1="121.14" x2="317.6" y2="121.14" stroke="#111" stroke-width="1.1" />
<text x="308.0" y="124.04" font-size="9.3" text-anchor="end" fill="#1a1a1a" >20</text>
<line x1="313.40000000000003" y1="138.10000000000002" x2="317.6" y2="138.10000000000002" stroke="#111" stroke-width="1.1" />
<text x="308.0" y="141.00000000000003" font-size="9.3" text-anchor="end" fill="#1a1a1a" >0</text>
<line x1="337.5" y1="138.1" x2="337.5" y2="142.5" stroke="#111" stroke-width="1.1" />
<line x1="376.8" y1="138.1" x2="376.8" y2="142.5" stroke="#111" stroke-width="1.1" />
<line x1="333.1" y1="78.1" x2="383.2" y2="78.1" stroke="#3a3a3a" stroke-width="1.05" />
<text x="354.5" y="79.3" font-size="8.6" text-anchor="start" fill="#b8304e" letter-spacing="0.3">**</text>
<circle cx="337.5" cy="131.4" r="2.0" fill="#fff" stroke="#1a1a1a" stroke-width="0.95"/>
<circle cx="331.7" cy="137.2" r="2.0" fill="#fff" stroke="#1a1a1a" stroke-width="0.95"/>
<circle cx="335.8" cy="137.2" r="2.0" fill="#fff" stroke="#1a1a1a" stroke-width="0.95"/>
<circle cx="339.8" cy="137.2" r="2.0" fill="#fff" stroke="#1a1a1a" stroke-width="0.95"/>
<circle cx="343.2" cy="137.2" r="2.0" fill="#fff" stroke="#1a1a1a" stroke-width="0.95"/>
<line x1="369.5" y1="104" x2="384.5" y2="104" stroke="#222" stroke-width="1.1" />
<line x1="377" y1="100.5" x2="377" y2="107.5" stroke="#222" stroke-width="1.1" />
<line x1="373.4" y1="100.5" x2="380.6" y2="100.5" stroke="#222" stroke-width="1.1" />
<line x1="373.4" y1="107.5" x2="380.6" y2="107.5" stroke="#222" stroke-width="1.1" />
<circle cx="377.1" cy="89" r="1.80" fill="#1f4784" stroke="#0f2c5a" stroke-width="0.75"/>
<circle cx="371.2" cy="105.6" r="1.80" fill="#1f4784" stroke="#0f2c5a" stroke-width="0.75"/>
<circle cx="371.2" cy="110.7" r="1.80" fill="#1f4784" stroke="#0f2c5a" stroke-width="0.75"/>
<circle cx="377.1" cy="107.3" r="1.80" fill="#1f4784" stroke="#0f2c5a" stroke-width="0.75"/>
<circle cx="382.9" cy="108" r="1.80" fill="#1f4784" stroke="#0f2c5a" stroke-width="0.75"/>
<text font-size="9.6" fill="#222" text-anchor="end" transform="translate(340.90 150.90) rotate(-45)">Isotype</text>
<text font-size="9.6" fill="#222" text-anchor="end" transform="translate(350.10 157.90) rotate(-45)">/B-BiTE</text>
<text font-size="9.6" fill="#222" text-anchor="end" transform="translate(380.40 151.50) rotate(-45)">Rituximab</text>
<text font-size="9.6" fill="#222" text-anchor="end" transform="translate(389.60 158.50) rotate(-45)">/B-BiTE</text>
<line x1="431.25" y1="49.55" x2="431.25" y2="138.7" stroke="#111" stroke-width="1.5" />
<line x1="427.05" y1="138" x2="509.5" y2="138" stroke="#111" stroke-width="1.5" />
<line x1="427.05" y1="53.75" x2="431.25" y2="53.75" stroke="#111" stroke-width="1.1" />
<text x="421.65" y="56.65" font-size="9.3" text-anchor="end" fill="#1a1a1a" >100</text>
<line x1="427.05" y1="70.6" x2="431.25" y2="70.6" stroke="#111" stroke-width="1.1" />
<text x="421.65" y="73.5" font-size="9.3" text-anchor="end" fill="#1a1a1a" >80</text>
<line x1="427.05" y1="87.45" x2="431.25" y2="87.45" stroke="#111" stroke-width="1.1" />
<text x="421.65" y="90.35000000000001" font-size="9.3" text-anchor="end" fill="#1a1a1a" >60</text>
<line x1="427.05" y1="104.30000000000001" x2="431.25" y2="104.30000000000001" stroke="#111" stroke-width="1.1" />
<text x="421.65" y="107.20000000000002" font-size="9.3" text-anchor="end" fill="#1a1a1a" >40</text>
<line x1="427.05" y1="121.15" x2="431.25" y2="121.15" stroke="#111" stroke-width="1.1" />
<text x="421.65" y="124.05000000000001" font-size="9.3" text-anchor="end" fill="#1a1a1a" >20</text>
<line x1="427.05" y1="138.0" x2="431.25" y2="138.0" stroke="#111" stroke-width="1.1" />
<text x="421.65" y="140.9" font-size="9.3" text-anchor="end" fill="#1a1a1a" >0</text>
<line x1="450.75" y1="138" x2="450.75" y2="142.4" stroke="#111" stroke-width="1.1" />
<line x1="490" y1="138" x2="490" y2="142.4" stroke="#111" stroke-width="1.1" />
<line x1="443.75" y1="82.5" x2="494.5" y2="82.5" stroke="#3a3a3a" stroke-width="1.05" />
<text x="463.6" y="83.7" font-size="8.6" text-anchor="start" fill="#b8304e" letter-spacing="0.3">***</text>
<circle cx="446.5" cy="132.5" r="2.0" fill="#fff" stroke="#1a1a1a" stroke-width="0.95"/>
<circle cx="446" cy="136.8" r="2.0" fill="#fff" stroke="#1a1a1a" stroke-width="0.95"/>
<circle cx="450.5" cy="136.8" r="2.0" fill="#fff" stroke="#1a1a1a" stroke-width="0.95"/>
<circle cx="455" cy="136.8" r="2.0" fill="#fff" stroke="#1a1a1a" stroke-width="0.95"/>
<circle cx="458" cy="136.8" r="2.0" fill="#fff" stroke="#1a1a1a" stroke-width="0.95"/>
<line x1="482.5" y1="106.3" x2="497.5" y2="106.3" stroke="#222" stroke-width="1.1" />
<line x1="490" y1="104.2" x2="490" y2="108.5" stroke="#222" stroke-width="1.1" />
<line x1="486.4" y1="104.2" x2="493.6" y2="104.2" stroke="#222" stroke-width="1.1" />
<line x1="486.4" y1="108.5" x2="493.6" y2="108.5" stroke="#222" stroke-width="1.1" />
<circle cx="484.2" cy="101.9" r="1.80" fill="#3aa53a" stroke="#1f6b1f" stroke-width="0.75"/>
<circle cx="496.2" cy="102.2" r="1.80" fill="#3aa53a" stroke="#1f6b1f" stroke-width="0.75"/>
<circle cx="487.1" cy="110.9" r="1.80" fill="#3aa53a" stroke="#1f6b1f" stroke-width="0.75"/>
<circle cx="493.1" cy="110.4" r="1.80" fill="#3aa53a" stroke="#1f6b1f" stroke-width="0.75"/>
<circle cx="490" cy="106" r="1.80" fill="#3aa53a" stroke="#1f6b1f" stroke-width="0.75"/>
<text font-size="9.6" fill="#222" text-anchor="end" transform="translate(454.15 150.80) rotate(-45)">Isotype</text>
<text font-size="9.6" fill="#222" text-anchor="end" transform="translate(463.35 157.80) rotate(-45)">/B-BiTE</text>
<text font-size="9.6" fill="#222" text-anchor="end" transform="translate(493.60 151.40) rotate(-45)">Daratumumab</text>
<text font-size="9.6" fill="#222" text-anchor="end" transform="translate(502.80 158.40) rotate(-45)">/B-BiTE</text>
<line x1="317.6" y1="215.10000000000002" x2="317.6" y2="304.7" stroke="#111" stroke-width="1.5" />
<line x1="313.40000000000003" y1="304" x2="397" y2="304" stroke="#111" stroke-width="1.5" />
<line x1="313.40000000000003" y1="219.3" x2="317.6" y2="219.3" stroke="#111" stroke-width="1.1" />
<text x="308.0" y="222.20000000000002" font-size="9.3" text-anchor="end" fill="#1a1a1a" >100</text>
<line x1="313.40000000000003" y1="236.24" x2="317.6" y2="236.24" stroke="#111" stroke-width="1.1" />
<text x="308.0" y="239.14000000000001" font-size="9.3" text-anchor="end" fill="#1a1a1a" >80</text>
<line x1="313.40000000000003" y1="253.18" x2="317.6" y2="253.18" stroke="#111" stroke-width="1.1" />
<text x="308.0" y="256.08" font-size="9.3" text-anchor="end" fill="#1a1a1a" >60</text>
<line x1="313.40000000000003" y1="270.12" x2="317.6" y2="270.12" stroke="#111" stroke-width="1.1" />
<text x="308.0" y="273.02" font-size="9.3" text-anchor="end" fill="#1a1a1a" >40</text>
<line x1="313.40000000000003" y1="287.06" x2="317.6" y2="287.06" stroke="#111" stroke-width="1.1" />
<text x="308.0" y="289.96" font-size="9.3" text-anchor="end" fill="#1a1a1a" >20</text>
<line x1="313.40000000000003" y1="304.0" x2="317.6" y2="304.0" stroke="#111" stroke-width="1.1" />
<text x="308.0" y="306.9" font-size="9.3" text-anchor="end" fill="#1a1a1a" >0</text>
<line x1="337.5" y1="304" x2="337.5" y2="308.4" stroke="#111" stroke-width="1.1" />
<line x1="376.8" y1="304" x2="376.8" y2="308.4" stroke="#111" stroke-width="1.1" />
<line x1="332.2" y1="223.9" x2="382.6" y2="223.9" stroke="#3a3a3a" stroke-width="1.05" />
<text x="351.6" y="225.1" font-size="8.6" text-anchor="start" fill="#b8304e" letter-spacing="0.3">***</text>
<circle cx="334" cy="301.5" r="2.0" fill="#fff" stroke="#1a1a1a" stroke-width="0.95"/>
<circle cx="331.5" cy="303.3" r="2.0" fill="#fff" stroke="#1a1a1a" stroke-width="0.95"/>
<circle cx="336.5" cy="303.3" r="2.0" fill="#fff" stroke="#1a1a1a" stroke-width="0.95"/>
<circle cx="341.5" cy="303.3" r="2.0" fill="#fff" stroke="#1a1a1a" stroke-width="0.95"/>
<line x1="369.7" y1="248.2" x2="384.7" y2="248.2" stroke="#222" stroke-width="1.1" />
<line x1="377.2" y1="243" x2="377.2" y2="253.3" stroke="#222" stroke-width="1.1" />
<line x1="373.59999999999997" y1="243" x2="380.8" y2="243" stroke="#222" stroke-width="1.1" />
<line x1="373.59999999999997" y1="253.3" x2="380.8" y2="253.3" stroke="#222" stroke-width="1.1" />
<circle cx="377.2" cy="230.4" r="1.80" fill="#1f4784" stroke="#0f2c5a" stroke-width="0.75"/>
<circle cx="371.1" cy="246.9" r="1.80" fill="#1f4784" stroke="#0f2c5a" stroke-width="0.75"/>
<circle cx="382.9" cy="246.5" r="1.80" fill="#1f4784" stroke="#0f2c5a" stroke-width="0.75"/>
<circle cx="371.4" cy="260" r="1.80" fill="#1f4784" stroke="#0f2c5a" stroke-width="0.75"/>
<circle cx="382.9" cy="257.6" r="1.80" fill="#1f4784" stroke="#0f2c5a" stroke-width="0.75"/>
<text font-size="9.6" fill="#222" text-anchor="end" transform="translate(340.90 316.80) rotate(-45)">Isotype</text>
<text font-size="9.6" fill="#222" text-anchor="end" transform="translate(350.10 323.80) rotate(-45)">/B-BiTE</text>
<text font-size="9.6" fill="#222" text-anchor="end" transform="translate(380.40 317.40) rotate(-45)">Rituximab</text>
<text font-size="9.6" fill="#222" text-anchor="end" transform="translate(389.60 324.40) rotate(-45)">/B-BiTE</text>
<line x1="431.25" y1="214.55" x2="431.25" y2="304.45" stroke="#111" stroke-width="1.5" />
<line x1="427.05" y1="303.75" x2="509.5" y2="303.75" stroke="#111" stroke-width="1.5" />
<line x1="427.05" y1="218.75" x2="431.25" y2="218.75" stroke="#111" stroke-width="1.1" />
<text x="421.65" y="221.65" font-size="9.3" text-anchor="end" fill="#1a1a1a" >100</text>
<line x1="427.05" y1="235.75" x2="431.25" y2="235.75" stroke="#111" stroke-width="1.1" />
<text x="421.65" y="238.65" font-size="9.3" text-anchor="end" fill="#1a1a1a" >80</text>
<line x1="427.05" y1="252.75" x2="431.25" y2="252.75" stroke="#111" stroke-width="1.1" />
<text x="421.65" y="255.65" font-size="9.3" text-anchor="end" fill="#1a1a1a" >60</text>
<line x1="427.05" y1="269.75" x2="431.25" y2="269.75" stroke="#111" stroke-width="1.1" />
<text x="421.65" y="272.65" font-size="9.3" text-anchor="end" fill="#1a1a1a" >40</text>
<line x1="427.05" y1="286.75" x2="431.25" y2="286.75" stroke="#111" stroke-width="1.1" />
<text x="421.65" y="289.65" font-size="9.3" text-anchor="end" fill="#1a1a1a" >20</text>
<line x1="427.05" y1="303.75" x2="431.25" y2="303.75" stroke="#111" stroke-width="1.1" />
<text x="421.65" y="306.65" font-size="9.3" text-anchor="end" fill="#1a1a1a" >0</text>
<line x1="450.75" y1="303.75" x2="450.75" y2="308.15" stroke="#111" stroke-width="1.1" />
<line x1="490" y1="303.75" x2="490" y2="308.15" stroke="#111" stroke-width="1.1" />
<line x1="445" y1="225.5" x2="494.5" y2="225.5" stroke="#3a3a3a" stroke-width="1.05" />
<text x="463.6" y="226.7" font-size="8.6" text-anchor="start" fill="#b8304e" letter-spacing="0.3">***</text>
<circle cx="449" cy="301" r="2.0" fill="#fff" stroke="#1a1a1a" stroke-width="0.95"/>
<circle cx="446.5" cy="303.3" r="2.0" fill="#fff" stroke="#1a1a1a" stroke-width="0.95"/>
<circle cx="451.5" cy="303.3" r="2.0" fill="#fff" stroke="#1a1a1a" stroke-width="0.95"/>
<circle cx="456.5" cy="303.3" r="2.0" fill="#fff" stroke="#1a1a1a" stroke-width="0.95"/>
<line x1="482.5" y1="248" x2="497.5" y2="248" stroke="#222" stroke-width="1.1" />
<line x1="490" y1="243.75" x2="490" y2="253" stroke="#222" stroke-width="1.1" />
<line x1="486.4" y1="243.75" x2="493.6" y2="243.75" stroke="#222" stroke-width="1.1" />
<line x1="486.4" y1="253" x2="493.6" y2="253" stroke="#222" stroke-width="1.1" />
<circle cx="490" cy="237" r="1.80" fill="#3aa53a" stroke="#1f6b1f" stroke-width="0.75"/>
<circle cx="484.5" cy="245" r="1.80" fill="#3aa53a" stroke="#1f6b1f" stroke-width="0.75"/>
<circle cx="490" cy="245.5" r="1.80" fill="#3aa53a" stroke="#1f6b1f" stroke-width="0.75"/>
<circle cx="496.25" cy="245" r="1.80" fill="#3aa53a" stroke="#1f6b1f" stroke-width="0.75"/>
<circle cx="490" cy="267.5" r="1.80" fill="#3aa53a" stroke="#1f6b1f" stroke-width="0.75"/>
<text font-size="9.6" fill="#222" text-anchor="end" transform="translate(454.15 316.55) rotate(-45)">Isotype</text>
<text font-size="9.6" fill="#222" text-anchor="end" transform="translate(463.35 323.55) rotate(-45)">/B-BiTE</text>
<text font-size="9.6" fill="#222" text-anchor="end" transform="translate(493.60 317.15) rotate(-45)">Daratumumab</text>
<text font-size="9.6" fill="#222" text-anchor="end" transform="translate(502.80 324.15) rotate(-45)">/B-BiTE</text>
<text x="268.4" y="93.45" font-size="12.6" text-anchor="middle" fill="#1a1a1a" textLength="66.5" lengthAdjust="spacingAndGlyphs" transform="rotate(-90 268.4 93.45)" stroke="#1a1a1a" stroke-width="0.22">Proliferation of</text>
<text x="268.4" y="259.5" font-size="12.6" text-anchor="middle" fill="#1a1a1a" textLength="66.5" lengthAdjust="spacingAndGlyphs" transform="rotate(-90 268.4 259.5)" stroke="#1a1a1a" stroke-width="0.22">Proliferation of</text>
<text x="284.4" y="93.95" font-size="12.6" text-anchor="middle" fill="#1a1a1a" textLength="70.5" lengthAdjust="spacingAndGlyphs" transform="rotate(-90 284.4 93.95)" stroke="#1a1a1a" stroke-width="0.22">CD4<tspan font-size="9" dy="-4.8">+</tspan><tspan dy="4.8"> T cells (%)</tspan></text>
<text x="284.4" y="259.9" font-size="12.6" text-anchor="middle" fill="#1a1a1a" textLength="70.5" lengthAdjust="spacingAndGlyphs" transform="rotate(-90 284.4 259.9)" stroke="#1a1a1a" stroke-width="0.22">CD8<tspan font-size="9" dy="-4.8">+</tspan><tspan dy="4.8"> T cells (%)</tspan></text>
<text x="47" y="421.9" font-size="17.5" text-anchor="start" fill="#111" font-weight="bold" >G</text>
<text x="136" y="446.7" font-size="12" text-anchor="start" fill="#1a1a1a" textLength="135" lengthAdjust="spacingAndGlyphs" >K562/CD38 plus T cells</text>
<line x1="93.7" y1="454.6" x2="272.5" y2="454.6" stroke="#1a1a1a" stroke-width="1.1" />
<text x="101.8" y="467.6" font-size="8.7" text-anchor="start" fill="#1a1a1a" textLength="63.9" lengthAdjust="spacingAndGlyphs" >Isotype/B-BiTE</text>
<text x="216.1" y="467.4" font-size="8.7" text-anchor="start" fill="#1a1a1a" textLength="94.4" lengthAdjust="spacingAndGlyphs" >Daratumumab/B-BiTE</text>
<rect x="87" y="479.4" width="94.80000000000001" height="94.39999999999998" fill="none" stroke="#b4b4b4" stroke-width="0.9"/>
<line x1="87" y1="479.4" x2="87" y2="573.8" stroke="#8a8a8a" stroke-width="0.9" />
<line x1="87" y1="573.8" x2="181.8" y2="573.8" stroke="#8a8a8a" stroke-width="0.9" />
<line x1="86.1" y1="480.4" x2="86.1" y2="573.8" stroke="#aaa" stroke-width="1.2" stroke-dasharray="0.6 2.1"/>
<line x1="87" y1="574.6999999999999" x2="180.8" y2="574.6999999999999" stroke="#aaa" stroke-width="1.2" stroke-dasharray="0.6 2.1"/>
<line x1="85" y1="480.8" x2="87" y2="480.8" stroke="#555" stroke-width="0.8" />
<line x1="85" y1="499.1" x2="87" y2="499.1" stroke="#555" stroke-width="0.8" />
<line x1="85" y1="521.2" x2="87" y2="521.2" stroke="#555" stroke-width="0.8" />
<line x1="85" y1="548.2" x2="87" y2="548.2" stroke="#555" stroke-width="0.8" />
<line x1="85" y1="535" x2="87" y2="535" stroke="#555" stroke-width="0.8" />
<line x1="85" y1="562" x2="87" y2="562" stroke="#555" stroke-width="0.8" />
<line x1="101" y1="573.8" x2="101" y2="575.8" stroke="#555" stroke-width="0.8" />
<line x1="115" y1="573.8" x2="115" y2="575.8" stroke="#555" stroke-width="0.8" />
<line x1="135" y1="573.8" x2="135" y2="575.8" stroke="#555" stroke-width="0.8" />
<line x1="153" y1="573.8" x2="153" y2="575.8" stroke="#555" stroke-width="0.8" />
<line x1="171" y1="573.8" x2="171" y2="575.8" stroke="#555" stroke-width="0.8" />
<rect x="85" y="547.2" width="2" height="2" fill="#111"/>
<rect x="99.8" y="573.8" width="2.4" height="1.8" fill="#222"/>
<text transform="translate(66.50 483.3) scale(0.86 1)" font-size="10.6" fill="#1e1e1e">10<tspan font-size="6.6" dx="0.7" dy="-5.2">6</tspan></text>
<text transform="translate(66.50 502.9) scale(0.86 1)" font-size="10.6" fill="#1e1e1e">10<tspan font-size="6.6" dx="0.7" dy="-5.2">5</tspan></text>
<text transform="translate(66.50 525) scale(0.86 1)" font-size="10.6" fill="#1e1e1e">10<tspan font-size="6.6" dx="0.7" dy="-5.2">4</tspan></text>
<text transform="translate(75.40 551.8) scale(1.0 1)" font-size="10.6" fill="#1e1e1e">0</text>
<text transform="translate(98.50 589.3) scale(1.0 1)" font-size="10.6" fill="#1e1e1e">0</text>
<text transform="translate(128.10 589.3) scale(0.86 1)" font-size="10.6" fill="#1e1e1e">10<tspan font-size="6.6" dx="0.7" dy="-5.2">4</tspan></text>
<text transform="translate(147.00 589.3) scale(0.86 1)" font-size="10.6" fill="#1e1e1e">10<tspan font-size="6.6" dx="0.7" dy="-5.2">5</tspan></text>
<text transform="translate(164.50 589.3) scale(0.86 1)" font-size="10.6" fill="#1e1e1e">10<tspan font-size="6.6" dx="0.7" dy="-5.2">6</tspan></text>
<rect x="87" y="624" width="94.80000000000001" height="93.79999999999995" fill="none" stroke="#b4b4b4" stroke-width="0.9"/>
<line x1="87" y1="624" x2="87" y2="717.8" stroke="#8a8a8a" stroke-width="0.9" />
<line x1="87" y1="717.8" x2="181.8" y2="717.8" stroke="#8a8a8a" stroke-width="0.9" />
<line x1="86.1" y1="625" x2="86.1" y2="717.8" stroke="#aaa" stroke-width="1.2" stroke-dasharray="0.6 2.1"/>
<line x1="87" y1="718.6999999999999" x2="180.8" y2="718.6999999999999" stroke="#aaa" stroke-width="1.2" stroke-dasharray="0.6 2.1"/>
<line x1="85" y1="647.7" x2="87" y2="647.7" stroke="#555" stroke-width="0.8" />
<line x1="85" y1="670.6" x2="87" y2="670.6" stroke="#555" stroke-width="0.8" />
<line x1="85" y1="694.1" x2="87" y2="694.1" stroke="#555" stroke-width="0.8" />
<line x1="85" y1="717.3" x2="87" y2="717.3" stroke="#555" stroke-width="0.8" />
<line x1="108" y1="717.8" x2="108" y2="719.8" stroke="#555" stroke-width="0.8" />
<line x1="122" y1="717.8" x2="122" y2="719.8" stroke="#555" stroke-width="0.8" />
<line x1="139" y1="717.8" x2="139" y2="719.8" stroke="#555" stroke-width="0.8" />
<line x1="155" y1="717.8" x2="155" y2="719.8" stroke="#555" stroke-width="0.8" />
<line x1="171" y1="717.8" x2="171" y2="719.8" stroke="#555" stroke-width="0.8" />
<rect x="106.8" y="717.8" width="2.4" height="1.8" fill="#222"/>
<text transform="translate(66.10 627.3) scale(0.86 1)" font-size="10.6" fill="#1e1e1e">10<tspan font-size="6.6" dx="0.7" dy="-5.2">6</tspan></text>
<text transform="translate(66.10 651) scale(0.86 1)" font-size="10.6" fill="#1e1e1e">10<tspan font-size="6.6" dx="0.7" dy="-5.2">5</tspan></text>
<text transform="translate(66.10 673.9) scale(0.86 1)" font-size="10.6" fill="#1e1e1e">10<tspan font-size="6.6" dx="0.7" dy="-5.2">4</tspan></text>
<text transform="translate(66.10 697.4) scale(0.86 1)" font-size="10.6" fill="#1e1e1e">10<tspan font-size="6.6" dx="0.7" dy="-5.2">3</tspan></text>
<text transform="translate(66.10 720.6) scale(0.86 1)" font-size="10.6" fill="#1e1e1e">10<tspan font-size="6.6" dx="0.7" dy="-5.2">2</tspan></text>
<text transform="translate(105.30 732.4) scale(1.0 1)" font-size="10.6" fill="#1e1e1e">0</text>
<text transform="translate(119.20 732.4) scale(0.86 1)" font-size="10.6" fill="#1e1e1e">10<tspan font-size="6.6" dx="0.7" dy="-5.2">3</tspan></text>
<text transform="translate(134.90 732.4) scale(0.86 1)" font-size="10.6" fill="#1e1e1e">10<tspan font-size="6.6" dx="0.7" dy="-5.2">4</tspan></text>
<text transform="translate(150.50 732.4) scale(0.86 1)" font-size="10.6" fill="#1e1e1e">10<tspan font-size="6.6" dx="0.7" dy="-5.2">5</tspan></text>
<text transform="translate(165.90 732.4) scale(0.86 1)" font-size="10.6" fill="#1e1e1e">10<tspan font-size="6.6" dx="0.7" dy="-5.2">6</tspan></text>
<rect x="218.3" y="479.4" width="94.30000000000001" height="94.39999999999998" fill="none" stroke="#b4b4b4" stroke-width="0.9"/>
<line x1="218.3" y1="479.4" x2="218.3" y2="573.8" stroke="#8a8a8a" stroke-width="0.9" />
<line x1="218.3" y1="573.8" x2="312.6" y2="573.8" stroke="#8a8a8a" stroke-width="0.9" />
<line x1="217.4" y1="480.4" x2="217.4" y2="573.8" stroke="#aaa" stroke-width="1.2" stroke-dasharray="0.6 2.1"/>
<line x1="218.3" y1="574.6999999999999" x2="311.6" y2="574.6999999999999" stroke="#aaa" stroke-width="1.2" stroke-dasharray="0.6 2.1"/>
<line x1="216.3" y1="480.8" x2="218.3" y2="480.8" stroke="#555" stroke-width="0.8" />
<line x1="216.3" y1="499.1" x2="218.3" y2="499.1" stroke="#555" stroke-width="0.8" />
<line x1="216.3" y1="521.2" x2="218.3" y2="521.2" stroke="#555" stroke-width="0.8" />
<line x1="216.3" y1="548.2" x2="218.3" y2="548.2" stroke="#555" stroke-width="0.8" />
<line x1="216.3" y1="535" x2="218.3" y2="535" stroke="#555" stroke-width="0.8" />
<line x1="216.3" y1="562" x2="218.3" y2="562" stroke="#555" stroke-width="0.8" />
<line x1="232.3" y1="573.8" x2="232.3" y2="575.8" stroke="#555" stroke-width="0.8" />
<line x1="246.3" y1="573.8" x2="246.3" y2="575.8" stroke="#555" stroke-width="0.8" />
<line x1="266.3" y1="573.8" x2="266.3" y2="575.8" stroke="#555" stroke-width="0.8" />
<line x1="284.3" y1="573.8" x2="284.3" y2="575.8" stroke="#555" stroke-width="0.8" />
<line x1="302.3" y1="573.8" x2="302.3" y2="575.8" stroke="#555" stroke-width="0.8" />
<rect x="216.3" y="547.2" width="2" height="2" fill="#111"/>
<rect x="231.10000000000002" y="573.8" width="2.4" height="1.8" fill="#222"/>
<text transform="translate(197.80 483.3) scale(0.86 1)" font-size="10.6" fill="#1e1e1e">10<tspan font-size="6.6" dx="0.7" dy="-5.2">6</tspan></text>
<text transform="translate(197.80 502.9) scale(0.86 1)" font-size="10.6" fill="#1e1e1e">10<tspan font-size="6.6" dx="0.7" dy="-5.2">5</tspan></text>
<text transform="translate(197.80 525) scale(0.86 1)" font-size="10.6" fill="#1e1e1e">10<tspan font-size="6.6" dx="0.7" dy="-5.2">4</tspan></text>
<text transform="translate(206.70 551.8) scale(1.0 1)" font-size="10.6" fill="#1e1e1e">0</text>
<text transform="translate(229.80 589.3) scale(1.0 1)" font-size="10.6" fill="#1e1e1e">0</text>
<text transform="translate(259.40 589.3) scale(0.86 1)" font-size="10.6" fill="#1e1e1e">10<tspan font-size="6.6" dx="0.7" dy="-5.2">4</tspan></text>
<text transform="translate(278.30 589.3) scale(0.86 1)" font-size="10.6" fill="#1e1e1e">10<tspan font-size="6.6" dx="0.7" dy="-5.2">5</tspan></text>
<text transform="translate(295.80 589.3) scale(0.86 1)" font-size="10.6" fill="#1e1e1e">10<tspan font-size="6.6" dx="0.7" dy="-5.2">6</tspan></text>
<rect x="218.3" y="624" width="94.30000000000001" height="93.79999999999995" fill="none" stroke="#b4b4b4" stroke-width="0.9"/>
<line x1="218.3" y1="624" x2="218.3" y2="717.8" stroke="#8a8a8a" stroke-width="0.9" />
<line x1="218.3" y1="717.8" x2="312.6" y2="717.8" stroke="#8a8a8a" stroke-width="0.9" />
<line x1="217.4" y1="625" x2="217.4" y2="717.8" stroke="#aaa" stroke-width="1.2" stroke-dasharray="0.6 2.1"/>
<line x1="218.3" y1="718.6999999999999" x2="311.6" y2="718.6999999999999" stroke="#aaa" stroke-width="1.2" stroke-dasharray="0.6 2.1"/>
<line x1="216.3" y1="647.7" x2="218.3" y2="647.7" stroke="#555" stroke-width="0.8" />
<line x1="216.3" y1="670.6" x2="218.3" y2="670.6" stroke="#555" stroke-width="0.8" />
<line x1="216.3" y1="694.1" x2="218.3" y2="694.1" stroke="#555" stroke-width="0.8" />
<line x1="216.3" y1="717.3" x2="218.3" y2="717.3" stroke="#555" stroke-width="0.8" />
<line x1="239.3" y1="717.8" x2="239.3" y2="719.8" stroke="#555" stroke-width="0.8" />
<line x1="253.3" y1="717.8" x2="253.3" y2="719.8" stroke="#555" stroke-width="0.8" />
<line x1="270.3" y1="717.8" x2="270.3" y2="719.8" stroke="#555" stroke-width="0.8" />
<line x1="286.3" y1="717.8" x2="286.3" y2="719.8" stroke="#555" stroke-width="0.8" />
<line x1="302.3" y1="717.8" x2="302.3" y2="719.8" stroke="#555" stroke-width="0.8" />
<rect x="238.10000000000002" y="717.8" width="2.4" height="1.8" fill="#222"/>
<text transform="translate(197.40 627.3) scale(0.86 1)" font-size="10.6" fill="#1e1e1e">10<tspan font-size="6.6" dx="0.7" dy="-5.2">6</tspan></text>
<text transform="translate(197.40 651) scale(0.86 1)" font-size="10.6" fill="#1e1e1e">10<tspan font-size="6.6" dx="0.7" dy="-5.2">5</tspan></text>
<text transform="translate(197.40 673.9) scale(0.86 1)" font-size="10.6" fill="#1e1e1e">10<tspan font-size="6.6" dx="0.7" dy="-5.2">4</tspan></text>
<text transform="translate(197.40 697.4) scale(0.86 1)" font-size="10.6" fill="#1e1e1e">10<tspan font-size="6.6" dx="0.7" dy="-5.2">3</tspan></text>
<text transform="translate(197.40 720.6) scale(0.86 1)" font-size="10.6" fill="#1e1e1e">10<tspan font-size="6.6" dx="0.7" dy="-5.2">2</tspan></text>
<text transform="translate(236.60 732.4) scale(1.0 1)" font-size="10.6" fill="#1e1e1e">0</text>
<text transform="translate(250.50 732.4) scale(0.86 1)" font-size="10.6" fill="#1e1e1e">10<tspan font-size="6.6" dx="0.7" dy="-5.2">3</tspan></text>
<text transform="translate(266.20 732.4) scale(0.86 1)" font-size="10.6" fill="#1e1e1e">10<tspan font-size="6.6" dx="0.7" dy="-5.2">4</tspan></text>
<text transform="translate(281.80 732.4) scale(0.86 1)" font-size="10.6" fill="#1e1e1e">10<tspan font-size="6.6" dx="0.7" dy="-5.2">5</tspan></text>
<text transform="translate(297.20 732.4) scale(0.86 1)" font-size="10.6" fill="#1e1e1e">10<tspan font-size="6.6" dx="0.7" dy="-5.2">6</tspan></text>
<path d="M125.3 510.4h.6M127.5 518.1h.6M118.7 524.2h.6M127.8 498.9h.6M132.2 523.0h.6M127.4 499.4h.6M120.8 514.5h.6M128.8 503.4h.6M120.0 497.7h.6M122.9 521.5h.6M116.4 512.1h.6M126.3 533.9h.6M127.0 515.0h.6M118.7 508.6h.6M121.0 519.5h.6M123.8 534.7h.6M125.3 507.3h.6M130.9 527.5h.6M124.5 510.8h.6M115.6 507.8h.6M128.1 510.0h.6M118.1 520.0h.6M125.1 524.1h.6M126.9 532.1h.6M120.2 527.8h.6M119.6 524.9h.6M124.8 520.4h.6M128.4 517.8h.6M129.0 526.8h.6M124.6 512.3h.6M120.6 512.7h.6M123.1 517.8h.6M137.4 524.4h.6M127.5 509.4h.6M120.8 514.8h.6M124.9 507.6h.6M131.3 512.4h.6M128.9 494.6h.6M124.0 520.8h.6M124.9 524.0h.6M125.3 519.6h.6M115.5 510.9h.6M113.5 524.3h.6M125.4 516.0h.6M120.3 512.2h.6M132.3 535.3h.6M123.7 530.9h.6M116.9 498.6h.6M121.8 509.3h.6M121.5 519.9h.6M137.6 511.4h.6M124.2 520.8h.6M123.8 527.3h.6M132.0 505.6h.6M124.7 515.4h.6M125.6 502.7h.6M116.1 494.8h.6M126.4 519.9h.6M124.3 494.3h.6M122.3 510.4h.6M117.6 508.8h.6M127.1 523.4h.6M123.9 523.1h.6M121.3 518.7h.6M124.2 523.5h.6M123.7 516.6h.6M123.4 511.6h.6M134.1 523.1h.6M125.9 540.9h.6M130.3 502.4h.6M127.1 526.4h.6M132.5 531.2h.6M127.5 506.2h.6M120.1 520.7h.6M126.3 507.8h.6M122.3 514.0h.6M124.3 521.4h.6M122.7 505.6h.6M129.6 534.0h.6M123.5 528.2h.6M126.0 524.6h.6M126.2 510.4h.6M126.6 528.1h.6M120.0 537.7h.6M133.4 536.2h.6M133.0 525.4h.6M122.5 512.0h.6M120.3 519.2h.6M123.9 524.7h.6M114.9 541.1h.6M134.2 517.7h.6M127.0 522.8h.6M125.2 515.9h.6M123.4 509.8h.6M124.8 517.8h.6M125.4 509.4h.6M124.2 518.5h.6M126.7 507.4h.6M125.9 527.8h.6M126.7 514.3h.6M121.8 515.6h.6M127.3 533.5h.6M123.3 511.6h.6M125.7 520.0h.6M119.9 510.6h.6M123.5 524.7h.6M118.6 507.8h.6M126.2 505.8h.6M124.5 521.5h.6M123.5 507.8h.6M123.7 514.7h.6M125.5 509.6h.6M128.9 501.2h.6M123.2 518.1h.6M128.3 511.9h.6M126.5 512.3h.6M127.3 535.4h.6M122.2 522.4h.6M119.8 527.7h.6M129.4 518.4h.6M118.9 522.0h.6M129.2 528.9h.6M127.7 499.7h.6M120.9 532.2h.6M118.5 529.3h.6M132.5 525.6h.6M129.0 514.7h.6M118.5 517.0h.6M123.1 517.5h.6M127.1 516.6h.6M124.9 522.2h.6M124.0 536.4h.6M126.0 518.8h.6M123.1 511.7h.6M130.0 519.5h.6M119.1 512.4h.6M123.4 513.5h.6M128.9 506.4h.6M126.2 519.4h.6M118.7 518.5h.6M123.6 523.0h.6M122.0 521.0h.6M116.5 507.2h.6M127.5 528.4h.6M123.9 512.0h.6M128.9 497.1h.6M120.4 524.7h.6M126.9 507.7h.6M115.5 532.5h.6M124.7 509.0h.6M124.2 527.0h.6M112.3 529.1h.6M127.3 497.2h.6M127.5 500.2h.6M129.1 522.0h.6M134.1 511.9h.6M124.0 528.5h.6M121.1 511.0h.6M122.3 517.3h.6M119.1 522.8h.6M126.4 518.7h.6M131.7 514.7h.6M129.9 512.5h.6M127.4 498.7h.6M124.9 516.2h.6M121.8 511.9h.6M122.4 510.8h.6M114.1 512.0h.6M121.5 512.8h.6M119.2 516.6h.6M127.5 515.5h.6M121.8 531.6h.6M128.4 527.2h.6M129.2 514.7h.6M123.4 529.1h.6M121.5 516.8h.6M125.7 521.7h.6M122.8 527.8h.6M123.2 525.3h.6M128.8 524.6h.6M127.3 506.4h.6M118.1 511.8h.6M126.1 533.0h.6M118.5 521.1h.6M120.2 510.7h.6M122.8 524.9h.6M125.0 529.8h.6M119.6 526.9h.6M128.2 518.7h.6M126.1 512.4h.6M119.1 513.9h.6M121.1 546.9h.6M121.8 534.5h.6M124.9 521.1h.6M127.3 510.2h.6M128.1 521.8h.6M117.2 524.0h.6M126.5 522.5h.6M131.1 513.9h.6M126.3 525.5h.6M119.9 530.0h.6M117.5 505.0h.6M126.4 507.1h.6M123.5 501.6h.6M124.3 506.7h.6M125.5 502.7h.6M126.0 515.3h.6M124.3 517.3h.6M124.6 504.8h.6M112.5 518.3h.6M119.8 513.5h.6M125.9 498.1h.6M120.6 511.9h.6M119.2 521.3h.6M123.4 509.8h.6M119.6 526.1h.6M121.0 523.9h.6M126.0 499.1h.6M119.1 518.0h.6M125.5 525.8h.6M122.0 548.3h.6M110.3 535.9h.6M121.8 533.7h.6M124.6 522.1h.6M120.5 536.3h.6M94.3 547.8h.6M117.1 538.2h.6M103.2 533.3h.6M129.1 529.7h.6M102.0 536.7h.6M110.1 528.9h.6M105.6 548.5h.6M99.6 557.6h.6M108.6 527.1h.6M121.9 543.6h.6M103.6 545.5h.6M95.6 528.8h.6M125.3 535.4h.6M101.0 543.1h.6M123.2 537.8h.6M95.9 534.5h.6M118.2 545.7h.6M132.5 535.5h.6M109.2 537.6h.6M126.1 528.6h.6M127.1 510.5h.6M122.0 531.2h.6M118.6 544.9h.6M102.2 537.1h.6M116.4 543.9h.6M104.7 528.1h.6M94.8 563.4h.6M112.1 535.8h.6M99.1 547.3h.6M108.7 552.4h.6M122.5 538.2h.6M121.3 526.9h.6M110.7 532.2h.6M101.3 538.2h.6M112.6 552.4h.6M104.8 533.4h.6M118.2 542.0h.6M114.3 533.3h.6M118.9 541.6h.6M95.6 535.4h.6M100.3 526.2h.6M115.5 538.6h.6M115.1 529.2h.6M112.0 528.9h.6M117.8 544.9h.6M131.6 550.7h.6M105.9 533.4h.6M104.6 541.1h.6M133.8 545.1h.6M92.0 525.4h.6M101.1 543.2h.6M114.0 541.0h.6M131.8 529.7h.6M105.5 557.7h.6M117.4 530.2h.6M93.7 522.8h.6M89.6 538.7h.6M114.4 547.9h.6M112.6 531.1h.6M106.6 557.0h.6M96.3 539.7h.6M114.3 544.2h.6M110.0 543.0h.6M122.2 536.5h.6M109.4 536.1h.6M104.4 535.9h.6M111.0 540.1h.6M127.4 551.1h.6M109.5 544.0h.6M116.9 545.6h.6M114.2 540.7h.6M109.3 530.2h.6M122.7 551.0h.6M120.6 542.4h.6M116.7 533.5h.6M96.2 544.6h.6M116.0 532.5h.6M104.4 550.8h.6M96.0 555.6h.6M120.4 561.7h.6M106.8 537.8h.6M108.9 539.6h.6M111.9 530.5h.6M124.7 530.2h.6M108.9 543.5h.6M108.6 533.7h.6M117.6 534.3h.6M101.5 537.0h.6M111.8 555.0h.6M103.0 547.7h.6M106.1 534.4h.6M110.7 540.7h.6M122.6 555.5h.6M107.6 551.3h.6M124.0 546.1h.6M106.4 547.0h.6M112.9 541.5h.6M111.3 544.6h.6M125.2 549.3h.6M111.9 548.0h.6M128.5 528.6h.6M128.7 524.6h.6M119.4 543.9h.6M128.8 540.8h.6M109.2 530.0h.6M101.5 545.7h.6M111.6 530.8h.6M119.3 530.4h.6M109.6 533.4h.6M130.5 552.6h.6M112.4 522.3h.6M116.8 538.7h.6M117.5 543.7h.6M110.8 547.3h.6M122.4 540.1h.6M109.9 533.2h.6M120.9 527.0h.6M112.4 530.5h.6M100.1 544.0h.6M113.7 538.4h.6M122.7 523.1h.6M113.3 540.9h.6M122.3 527.2h.6M121.2 540.2h.6M127.6 549.4h.6M119.5 559.5h.6M114.0 533.8h.6M110.6 528.6h.6M113.7 519.2h.6M113.2 542.3h.6M123.9 534.5h.6M127.9 531.5h.6M112.7 519.2h.6M106.4 530.1h.6M128.6 543.2h.6M103.2 543.2h.6M118.7 535.7h.6M114.2 535.0h.6M108.7 520.7h.6M113.1 550.5h.6M128.0 535.3h.6M106.7 535.9h.6M122.8 541.4h.6M108.3 541.5h.6M112.0 543.0h.6M110.0 523.6h.6M114.6 545.4h.6M103.2 537.0h.6M122.6 534.3h.6M107.7 557.8h.6M122.1 548.0h.6M104.8 553.9h.6M97.9 533.0h.6M138.5 556.5h.6M123.9 546.8h.6M133.7 540.6h.6M137.6 552.7h.6M128.1 552.6h.6M138.8 551.5h.6M136.6 557.4h.6M127.8 550.8h.6M127.4 555.0h.6M128.4 552.3h.6M133.2 550.3h.6M147.0 549.6h.6M144.4 554.0h.6M143.5 549.2h.6M140.1 553.7h.6M126.7 551.3h.6M130.9 549.8h.6M143.3 546.5h.6M117.4 541.6h.6M128.1 546.9h.6M132.1 552.7h.6M147.3 551.5h.6M136.0 546.5h.6M137.0 556.6h.6M143.6 540.6h.6M139.7 557.6h.6M139.2 542.8h.6M129.3 552.8h.6M135.6 546.1h.6M124.3 554.7h.6M120.4 556.9h.6M132.2 551.4h.6M120.4 547.1h.6M138.0 542.9h.6M149.9 543.2h.6M121.4 550.2h.6M136.2 553.5h.6M128.8 549.0h.6M130.0 547.2h.6M109.7 554.6h.6M134.2 550.8h.6M126.6 551.2h.6M131.9 549.6h.6M141.6 541.7h.6M134.2 544.9h.6M129.3 557.2h.6M122.6 549.5h.6M126.9 554.6h.6M123.5 541.9h.6M136.4 548.3h.6M129.2 555.2h.6M124.3 548.2h.6M133.3 552.0h.6M127.5 555.0h.6M151.4 548.0h.6M148.2 539.9h.6M144.2 548.3h.6M133.2 548.4h.6M126.5 543.9h.6M128.6 556.2h.6M141.9 548.3h.6M127.4 546.6h.6M121.6 558.7h.6M137.7 550.6h.6M127.8 545.1h.6M143.4 553.7h.6M123.8 554.7h.6M122.4 553.1h.6M123.7 548.0h.6M136.3 552.1h.6M140.7 546.0h.6M145.6 556.5h.6M131.9 552.2h.6M125.3 549.3h.6M120.6 550.4h.6M133.7 556.4h.6M140.2 553.9h.6M128.9 548.9h.6M129.1 551.1h.6M115.3 553.7h.6M118.5 547.5h.6M132.2 547.5h.6M146.4 549.5h.6M145.6 555.6h.6M127.7 551.9h.6M143.2 548.4h.6M132.8 547.3h.6M132.5 548.3h.6M132.7 554.8h.6M144.0 550.6h.6M133.7 554.1h.6M129.5 544.9h.6M141.6 545.5h.6M140.0 545.4h.6M147.8 545.0h.6M139.3 557.2h.6M123.7 557.1h.6M124.9 541.5h.6M138.2 553.4h.6M130.2 537.9h.6M131.5 548.5h.6M128.7 548.6h.6M116.5 547.3h.6M147.6 557.4h.6M128.9 546.6h.6M135.4 555.1h.6M138.2 544.4h.6M133.4 550.7h.6M144.4 555.7h.6M136.5 555.8h.6M128.6 557.4h.6M128.3 551.9h.6M139.9 545.6h.6M125.9 541.6h.6M133.4 549.7h.6M129.2 552.4h.6M113.7 549.9h.6M132.8 548.7h.6M138.9 558.4h.6M128.1 545.5h.6M126.8 550.4h.6M137.1 545.9h.6M140.6 545.1h.6M139.1 552.1h.6M136.0 560.4h.6M129.7 549.2h.6M136.1 554.1h.6M120.4 551.3h.6M125.6 553.0h.6M143.8 550.2h.6M131.1 550.9h.6M106.5 553.7h.6M136.8 550.8h.6M128.6 546.5h.6M130.5 555.8h.6M131.1 556.5h.6M109.8 547.8h.6M134.4 549.9h.6M117.7 546.8h.6M142.8 543.8h.6M132.4 513.7h.6M135.8 523.7h.6M144.6 508.3h.6M151.2 516.6h.6M135.5 529.6h.6M139.4 512.9h.6M135.1 515.8h.6M132.2 518.1h.6M146.7 522.0h.6M129.4 536.1h.6M132.4 520.7h.6M140.2 524.4h.6M137.5 522.6h.6M156.2 520.6h.6M131.7 521.9h.6M133.8 517.9h.6M141.4 521.9h.6M137.8 524.9h.6M138.5 512.5h.6M146.7 517.9h.6M149.3 516.2h.6M144.4 521.8h.6M119.3 511.4h.6M131.4 528.1h.6M125.5 525.3h.6M148.4 522.9h.6M145.2 517.1h.6M139.9 521.3h.6M143.2 524.1h.6M138.4 516.0h.6M135.7 522.4h.6M127.2 512.8h.6M136.8 516.8h.6M137.9 504.7h.6M137.4 518.6h.6M146.0 508.6h.6M137.6 522.7h.6M143.8 526.9h.6M148.1 514.0h.6M144.9 518.1h.6" stroke="#777" stroke-width="0.6" opacity="1.0" fill="none"/>
<path d="M118.8 547.9h.6M147.1 517.7h.6M149.7 511.7h.6M95.1 518.5h.6M94.0 537.1h.6M119.4 525.5h.6M142.6 504.6h.6M130.8 483.2h.6M171.4 531.6h.6M176.9 486.9h.6M144.0 545.7h.6M119.0 490.2h.6M103.7 494.6h.6M157.5 489.9h.6M161.6 519.2h.6M137.4 533.8h.6M138.8 539.8h.6M142.9 511.1h.6M155.2 504.7h.6M152.6 549.2h.6M158.3 509.2h.6M158.0 568.0h.6M129.9 506.5h.6M136.1 564.8h.6M101.6 482.8h.6M131.9 539.7h.6M158.1 513.9h.6M177.1 502.1h.6M156.6 489.9h.6M92.5 493.8h.6M95.3 526.2h.6M138.9 498.0h.6M172.7 514.2h.6M103.1 497.6h.6M154.9 563.1h.6M104.3 484.6h.6M158.5 503.3h.6M176.4 525.9h.6M146.0 512.3h.6M160.4 522.5h.6" stroke="#bbb" stroke-width="0.6" opacity="1.0" fill="none"/>
<path d="M96 516 C96 508, 110 508, 113 516 C116 524, 118 532, 122 540 C128 542, 132 545, 130 550 C128 556, 110 557, 100 557 C94 556, 93 550, 96 544 C98 538, 96 528, 96 516 Z" fill="none" stroke="#999" stroke-width="0.60" opacity="0.9" transform="translate(108 536) scale(1.0) translate(-108 -536)"/>
<path d="M96 516 C96 508, 110 508, 113 516 C116 524, 118 532, 122 540 C128 542, 132 545, 130 550 C128 556, 110 557, 100 557 C94 556, 93 550, 96 544 C98 538, 96 528, 96 516 Z" fill="none" stroke="#999" stroke-width="0.68" opacity="0.9" transform="translate(108 536) scale(0.88) translate(-108 -536)"/>
<path d="M96 516 C96 508, 110 508, 113 516 C116 524, 118 532, 122 540 C128 542, 132 545, 130 550 C128 556, 110 557, 100 557 C94 556, 93 550, 96 544 C98 538, 96 528, 96 516 Z" fill="none" stroke="#999" stroke-width="0.79" opacity="0.9" transform="translate(108 536) scale(0.76) translate(-108 -536)"/>
<path d="M96 516 C96 508, 110 508, 113 516 C116 524, 118 532, 122 540 C128 542, 132 545, 130 550 C128 556, 110 557, 100 557 C94 556, 93 550, 96 544 C98 538, 96 528, 96 516 Z" fill="#ddd" opacity="0.5"/>
<ellipse cx="103.3" cy="520.8" rx="5.80" ry="7.20" fill="none" stroke="#555" stroke-width="0.8" opacity="0.9" transform="rotate(0 103.3 520.8)"/>
<ellipse cx="103.3" cy="520.8" rx="4.45" ry="5.52" fill="none" stroke="#555" stroke-width="0.8" opacity="0.9" transform="rotate(0 103.3 520.8)"/>
<ellipse cx="103.3" cy="520.8" rx="3.09" ry="3.84" fill="none" stroke="#555" stroke-width="0.8" opacity="0.9" transform="rotate(0 103.3 520.8)"/>
<ellipse cx="103.3" cy="520.8" rx="1.74" ry="2.16" fill="none" stroke="#555" stroke-width="0.8" opacity="0.9" transform="rotate(0 103.3 520.8)"/>
<ellipse cx="103.3" cy="520.8" rx="3.2" ry="4" fill="#666" opacity="0.55"/>
<path d="M96 551 C95 546, 100 544.5, 108 545 C116 545.5, 124 544, 129 544.5 C132 545, 132 549, 128 549.5 C120 550.5, 112 550, 107 552 C104 556, 97 557, 96 551 Z" fill="none" stroke="#4a4a4a" stroke-width="0.70" opacity="0.9" transform="translate(108 549) scale(1.15) translate(-108 -549)"/>
<path d="M96 551 C95 546, 100 544.5, 108 545 C116 545.5, 124 544, 129 544.5 C132 545, 132 549, 128 549.5 C120 550.5, 112 550, 107 552 C104 556, 97 557, 96 551 Z" fill="none" stroke="#4a4a4a" stroke-width="0.80" opacity="0.9" transform="translate(108 549) scale(1.0) translate(-108 -549)"/>
<path d="M96 551 C95 546, 100 544.5, 108 545 C116 545.5, 124 544, 129 544.5 C132 545, 132 549, 128 549.5 C120 550.5, 112 550, 107 552 C104 556, 97 557, 96 551 Z" fill="none" stroke="#4a4a4a" stroke-width="0.94" opacity="0.9" transform="translate(108 549) scale(0.85) translate(-108 -549)"/>
<path d="M96 551 C95 546, 100 544.5, 108 545 C116 545.5, 124 544, 129 544.5 C132 545, 132 549, 128 549.5 C120 550.5, 112 550, 107 552 C104 556, 97 557, 96 551 Z" fill="none" stroke="#4a4a4a" stroke-width="1.14" opacity="0.9" transform="translate(108 549) scale(0.7) translate(-108 -549)"/>
<path d="M96 551 C95 546, 100 544.5, 108 545 C116 545.5, 124 544, 129 544.5 C132 545, 132 549, 128 549.5 C120 550.5, 112 550, 107 552 C104 556, 97 557, 96 551 Z" fill="#666" opacity="0.55"/>
<path d="M100 547.5 C108 546.5, 118 546.5, 127 546.5" stroke="#222" stroke-width="1.6" fill="none"/>
<ellipse cx="100.8" cy="551.5" rx="4" ry="4.5" fill="#555" opacity="0.85"/>
<rect x="119.2" y="498.3" width="55.4" height="35.3" fill="none" stroke="#6a6a6a" stroke-width="1.0" />
<line x1="174.6" y1="498.3" x2="174.6" y2="533.6" stroke="#555" stroke-width="1.6" />
<path d="M240.7 555.1h.6M289.9 542.3h.6M291.0 536.1h.6M226.1 544.2h.6M288.4 534.6h.6M220.4 544.8h.6M291.1 521.3h.6M264.7 538.5h.6M260.2 542.9h.6M263.7 537.4h.6M263.8 507.9h.6M240.8 570.9h.6M267.9 545.8h.6M286.3 551.3h.6M273.8 519.9h.6M262.4 502.0h.6M258.0 540.3h.6M279.6 546.0h.6M242.2 519.1h.6M222.0 514.2h.6M273.4 556.1h.6M237.5 546.7h.6M271.1 521.3h.6M308.9 493.7h.6M260.6 531.0h.6M307.5 552.4h.6M310.4 529.8h.6M283.0 546.6h.6M272.9 532.9h.6M258.1 522.4h.6M235.7 554.5h.6M252.5 499.7h.6M267.6 527.5h.6M265.8 552.7h.6M259.7 524.4h.6M246.0 527.7h.6M252.6 530.8h.6M243.7 554.3h.6M280.5 539.1h.6M277.3 539.2h.6M276.4 547.2h.6M283.5 546.4h.6M251.3 528.0h.6M246.4 541.0h.6M279.8 521.7h.6M274.5 563.8h.6M288.5 512.8h.6M260.0 536.7h.6M261.2 533.3h.6M287.3 532.5h.6M238.5 537.7h.6M259.9 529.6h.6M249.9 509.1h.6M235.3 523.2h.6M239.1 491.0h.6M286.6 512.2h.6M246.5 535.2h.6M245.5 537.0h.6M251.7 532.2h.6M264.3 528.0h.6M222.9 508.0h.6M261.1 547.2h.6M250.3 535.3h.6M265.5 534.6h.6M283.3 507.6h.6M267.9 525.6h.6M255.3 516.4h.6M245.2 514.0h.6M238.5 562.2h.6M298.4 528.1h.6M277.9 514.7h.6M265.0 547.6h.6M261.1 514.3h.6M256.8 514.4h.6M232.1 524.8h.6M253.4 516.9h.6M243.0 515.3h.6M267.1 547.0h.6M257.5 558.5h.6M227.3 531.7h.6M237.2 525.8h.6M264.2 535.6h.6M286.2 520.4h.6M235.4 525.4h.6M268.3 518.5h.6M281.2 551.0h.6M231.5 532.9h.6M283.8 501.8h.6M266.4 524.9h.6M231.5 546.0h.6M266.7 521.5h.6M271.5 536.8h.6M278.5 535.9h.6M270.8 511.9h.6M253.0 529.8h.6M253.9 513.6h.6M223.0 531.4h.6M262.7 520.0h.6M253.1 515.9h.6M245.9 526.7h.6M248.2 537.3h.6M258.9 529.8h.6M270.7 545.3h.6M274.9 531.1h.6M258.5 517.0h.6M254.7 537.3h.6M266.9 522.7h.6M233.4 507.1h.6M268.9 542.0h.6M270.0 509.3h.6M257.4 531.0h.6M242.3 532.7h.6M257.7 516.6h.6M235.4 539.1h.6M269.6 515.9h.6M240.3 540.1h.6M274.8 523.8h.6M296.1 524.0h.6M239.4 542.9h.6M258.0 532.7h.6M262.8 514.3h.6M236.6 525.4h.6M292.1 514.3h.6M291.1 531.0h.6M238.2 531.6h.6M274.2 515.7h.6M238.2 534.0h.6M221.1 526.1h.6M244.7 507.8h.6M256.8 530.3h.6M250.1 511.9h.6M266.5 504.2h.6M273.5 534.7h.6M297.9 540.0h.6M269.6 531.6h.6M262.6 510.0h.6M293.3 535.2h.6M255.9 512.4h.6M293.7 535.2h.6M236.7 537.1h.6M302.5 527.7h.6M270.6 522.3h.6M248.6 542.6h.6M259.4 538.8h.6M255.5 537.9h.6M279.7 514.2h.6M239.1 527.0h.6M279.8 531.8h.6M288.5 509.3h.6M272.5 519.5h.6M264.1 532.4h.6M241.3 524.9h.6M237.1 531.6h.6M243.8 521.3h.6M266.7 519.1h.6M286.5 519.3h.6M280.1 531.8h.6M239.9 525.0h.6M244.1 523.1h.6M256.2 552.7h.6M253.1 549.3h.6M271.5 510.3h.6M219.5 537.7h.6M283.9 533.3h.6M257.5 524.6h.6M267.5 523.9h.6M250.6 523.0h.6M286.9 519.6h.6M270.1 512.4h.6M246.8 509.4h.6M257.8 537.3h.6M268.5 521.3h.6M275.0 523.3h.6M269.9 531.7h.6M273.5 494.4h.6M234.3 538.5h.6M259.7 558.4h.6M257.0 520.5h.6M293.8 535.5h.6M302.4 534.9h.6M257.7 537.8h.6M245.2 522.0h.6M250.2 525.0h.6M278.6 521.5h.6M268.9 521.3h.6M280.8 490.7h.6M257.6 530.3h.6M239.1 541.7h.6M266.6 545.3h.6M282.5 536.7h.6M258.8 513.3h.6M257.3 521.8h.6M267.3 521.7h.6M287.0 521.6h.6M256.8 540.5h.6M262.1 511.6h.6M270.8 525.4h.6M239.6 517.9h.6M272.3 532.1h.6M255.8 557.3h.6M270.9 519.7h.6M267.0 526.4h.6M232.5 555.9h.6M258.1 524.3h.6M250.0 541.3h.6M262.6 551.1h.6M278.7 550.2h.6M259.5 533.1h.6M252.8 525.7h.6M225.3 520.1h.6M241.8 519.2h.6M287.8 531.5h.6M288.0 539.6h.6M281.5 541.6h.6M249.2 538.8h.6M255.2 520.8h.6M287.3 557.2h.6M241.3 551.4h.6M279.6 516.6h.6M267.8 533.0h.6M270.0 523.2h.6M234.7 528.4h.6M280.3 538.6h.6M276.0 542.9h.6M241.0 527.4h.6M269.2 541.5h.6M265.3 535.0h.6M264.8 556.3h.6M223.2 529.8h.6M231.6 518.8h.6M266.8 551.1h.6M271.8 537.0h.6M283.6 530.7h.6M243.8 526.7h.6M269.1 524.3h.6M247.9 523.2h.6M230.2 514.2h.6M260.1 523.1h.6M262.8 546.9h.6M268.3 527.6h.6M237.1 513.5h.6M270.0 516.2h.6M271.1 513.5h.6M264.8 527.0h.6M283.1 522.7h.6M254.1 531.3h.6M263.2 550.8h.6M256.6 520.8h.6M255.2 534.4h.6M267.0 537.3h.6M232.7 561.4h.6M301.0 527.6h.6M236.4 530.1h.6M270.8 497.9h.6M262.3 508.1h.6M271.7 546.6h.6M283.9 507.7h.6M291.2 540.2h.6M254.4 534.8h.6M294.1 523.5h.6M261.7 520.5h.6M286.5 499.0h.6M292.1 515.0h.6M281.6 506.1h.6M242.2 519.9h.6M279.5 506.2h.6M274.8 519.4h.6M288.3 523.8h.6M272.3 525.7h.6M300.0 523.1h.6M261.5 554.7h.6M263.6 537.2h.6M246.4 530.7h.6M248.3 507.8h.6M232.0 543.4h.6M271.0 507.6h.6M300.4 518.6h.6M254.2 531.3h.6M237.9 506.2h.6M246.2 543.9h.6M282.1 506.7h.6M287.5 528.5h.6M272.6 528.7h.6M270.8 514.5h.6M242.8 518.5h.6M254.2 536.3h.6M229.0 549.5h.6M232.3 520.1h.6M240.1 533.8h.6M234.0 513.6h.6M230.2 506.5h.6M242.6 542.6h.6M246.8 534.7h.6M237.9 538.2h.6M241.5 524.5h.6M238.0 557.0h.6M226.2 509.1h.6M230.4 538.2h.6M242.9 523.4h.6M239.9 527.3h.6M237.7 520.7h.6M235.8 527.9h.6M242.5 558.1h.6M225.5 535.2h.6M236.0 541.0h.6M242.1 538.5h.6M240.7 515.2h.6M226.1 550.5h.6M243.0 515.2h.6M243.5 537.0h.6M221.8 540.1h.6M230.3 543.7h.6M232.1 518.0h.6M227.1 525.1h.6M241.9 518.9h.6M225.3 556.9h.6M246.7 537.3h.6M232.9 511.7h.6M226.5 535.5h.6M243.5 513.7h.6M236.0 524.3h.6M234.5 534.8h.6M248.1 519.4h.6M240.9 542.7h.6M234.4 526.0h.6M228.2 542.6h.6M232.9 519.2h.6M236.4 516.4h.6M230.0 524.0h.6M244.6 525.2h.6M239.0 508.2h.6M224.7 552.5h.6M233.7 507.2h.6M235.4 536.2h.6M226.0 516.1h.6M237.5 515.6h.6M240.6 541.0h.6M238.6 522.2h.6M235.7 519.5h.6M235.2 532.3h.6M234.3 541.1h.6M251.0 520.6h.6M238.0 539.1h.6M239.7 524.8h.6M233.2 541.6h.6M239.6 534.8h.6M231.3 536.5h.6M240.6 525.5h.6M239.7 557.4h.6M225.1 536.2h.6M229.2 509.6h.6M234.6 535.4h.6M236.3 512.2h.6M227.7 520.5h.6M236.1 516.8h.6M227.3 551.7h.6M231.1 525.9h.6M232.8 520.1h.6M236.2 524.0h.6M239.6 512.0h.6M227.4 554.4h.6M235.6 538.4h.6M242.8 535.5h.6M236.2 506.9h.6M226.7 541.3h.6M239.9 535.7h.6M226.4 499.1h.6M229.9 512.0h.6M236.9 514.1h.6M245.2 519.6h.6M232.7 539.7h.6M237.9 515.8h.6M240.8 554.1h.6M228.9 524.6h.6M229.7 501.6h.6M239.6 537.5h.6M241.7 533.8h.6M224.3 527.6h.6M232.1 512.0h.6M229.6 538.4h.6M234.3 554.7h.6M238.7 502.0h.6M241.2 545.0h.6M236.2 511.5h.6M246.3 510.1h.6M235.5 502.1h.6M228.7 504.9h.6M242.4 544.0h.6M233.6 509.5h.6M235.6 533.2h.6M227.1 512.2h.6M235.4 537.6h.6M236.4 534.1h.6M228.7 494.0h.6M237.8 515.5h.6M235.3 522.9h.6M238.8 517.5h.6M244.5 528.4h.6M239.1 536.6h.6M242.1 533.5h.6M225.8 519.4h.6M246.9 534.5h.6M239.3 534.4h.6M232.2 518.7h.6M232.2 543.8h.6M238.1 552.4h.6M238.9 553.9h.6M238.7 511.8h.6M246.2 532.6h.6M243.0 530.9h.6M234.1 530.3h.6M229.4 511.6h.6M230.8 520.8h.6M228.0 526.6h.6M237.8 555.8h.6M246.8 527.3h.6M241.2 525.0h.6M238.3 527.5h.6M232.8 529.0h.6M227.3 534.0h.6M234.3 513.1h.6M233.9 535.6h.6M232.0 534.5h.6M239.4 549.5h.6M229.6 526.5h.6M239.0 548.7h.6M288.6 516.5h.6M264.8 508.6h.6M307.9 510.3h.6M281.2 502.6h.6M293.8 513.6h.6M281.5 503.7h.6M283.9 517.6h.6M295.2 519.3h.6M296.9 511.7h.6M293.4 513.0h.6M266.6 522.1h.6M290.2 505.8h.6M290.3 513.7h.6M298.8 520.6h.6M242.9 515.3h.6M306.2 506.4h.6M259.3 513.7h.6M289.7 514.1h.6M269.6 509.2h.6M287.7 516.4h.6M276.7 498.0h.6M299.9 511.2h.6M283.5 506.1h.6M295.2 501.3h.6M286.5 512.7h.6M289.2 519.8h.6M283.6 512.6h.6M296.9 502.8h.6M280.9 512.4h.6M298.3 507.2h.6M296.2 514.3h.6M264.3 503.2h.6M265.1 512.8h.6M287.9 516.3h.6M296.4 508.7h.6M299.9 516.9h.6M291.6 514.9h.6M267.1 514.2h.6M270.6 504.9h.6M280.1 512.8h.6M284.3 510.0h.6M271.1 513.1h.6M274.7 503.6h.6M286.3 520.7h.6M279.4 505.7h.6M304.3 522.2h.6M280.9 510.7h.6M287.9 529.6h.6M286.9 517.9h.6M291.2 501.1h.6M269.6 504.6h.6M291.0 512.6h.6M309.9 510.4h.6M289.3 512.4h.6M286.9 525.8h.6M289.0 520.8h.6M303.1 508.4h.6M294.6 509.7h.6M286.5 512.9h.6M285.3 509.2h.6M306.7 510.4h.6M294.8 522.0h.6M293.7 518.1h.6M304.4 518.5h.6M309.0 503.5h.6M260.6 508.2h.6M265.5 511.9h.6M264.2 506.0h.6M289.1 512.9h.6M273.9 510.6h.6M283.6 512.4h.6M284.9 510.7h.6M297.3 502.4h.6M278.1 512.8h.6M279.4 508.7h.6M278.9 513.3h.6M302.4 510.9h.6M281.3 514.1h.6M281.6 500.4h.6M288.8 509.7h.6M277.0 515.8h.6M285.6 508.6h.6M254.5 501.7h.6M285.2 511.3h.6M291.1 513.3h.6M278.3 504.4h.6M269.7 511.2h.6M268.9 516.5h.6M266.4 501.3h.6M282.3 501.4h.6M307.8 506.0h.6M284.3 510.5h.6M273.5 501.4h.6M258.9 517.2h.6M299.3 525.0h.6M264.5 515.4h.6M284.8 517.1h.6M277.8 516.3h.6M297.5 515.6h.6M305.3 511.0h.6M306.6 507.8h.6M308.3 495.5h.6M285.2 507.2h.6M285.0 518.2h.6M295.1 512.6h.6M308.8 503.1h.6M273.6 521.1h.6M289.6 499.6h.6M289.8 504.9h.6M305.7 518.9h.6M277.3 519.8h.6M273.3 517.5h.6M293.1 511.2h.6M265.1 510.3h.6M252.9 508.6h.6M259.1 519.3h.6M243.7 533.4h.6M277.9 550.2h.6M253.9 560.7h.6M282.0 548.4h.6M250.8 530.3h.6M275.6 553.8h.6M252.0 539.5h.6M264.1 538.0h.6M265.2 552.6h.6M298.2 549.6h.6M269.3 552.5h.6M295.8 546.1h.6M238.0 543.3h.6M237.3 542.7h.6M262.3 550.1h.6M268.4 548.4h.6M257.1 550.5h.6M284.5 552.6h.6M297.9 546.3h.6M259.5 558.2h.6M269.4 550.5h.6M257.6 553.8h.6M256.1 542.0h.6M263.7 545.3h.6M283.3 545.7h.6M267.7 546.7h.6M272.5 544.2h.6M289.3 539.5h.6M256.5 543.7h.6M279.3 548.2h.6M275.7 546.0h.6M249.2 541.3h.6M257.6 544.8h.6M271.2 550.1h.6M286.5 547.4h.6M248.5 541.6h.6M266.3 550.2h.6M307.9 549.1h.6M303.7 559.2h.6M241.9 555.3h.6M290.0 556.1h.6M264.8 553.7h.6M254.4 547.6h.6M265.4 558.7h.6M260.3 553.7h.6M266.5 543.7h.6M270.3 552.0h.6M249.3 551.8h.6M249.3 542.7h.6M269.8 546.6h.6M243.4 538.2h.6M265.5 549.5h.6M254.9 549.1h.6M231.4 550.4h.6M274.2 549.7h.6M251.5 548.5h.6M267.9 554.4h.6M271.1 549.5h.6M249.1 553.2h.6M290.8 545.0h.6M279.1 549.8h.6M264.0 540.3h.6M303.6 536.8h.6M271.7 545.7h.6M290.2 545.5h.6M265.9 551.7h.6M275.0 544.9h.6M280.0 550.3h.6M286.7 544.9h.6M264.0 545.7h.6M246.6 549.5h.6M274.0 556.5h.6M257.9 550.3h.6M290.1 547.3h.6M266.4 548.8h.6M249.9 542.1h.6M289.5 549.0h.6M263.4 540.6h.6M267.6 555.0h.6M239.8 542.7h.6M289.3 556.6h.6M299.0 544.7h.6M278.2 543.5h.6M276.4 545.8h.6M269.3 556.0h.6M272.4 546.6h.6M266.2 549.6h.6M253.8 549.2h.6M278.1 557.3h.6M219.9 540.9h.6M237.9 553.2h.6M267.7 554.8h.6M253.9 545.1h.6M272.4 544.5h.6M289.3 548.0h.6M273.3 563.1h.6M255.2 553.5h.6M246.9 555.4h.6M286.1 548.8h.6M286.7 557.6h.6M295.1 548.0h.6M263.8 554.6h.6M232.9 544.4h.6M275.6 551.4h.6M305.6 558.5h.6M272.1 550.6h.6M236.2 546.9h.6M270.7 546.7h.6M266.3 551.6h.6M244.3 544.6h.6M226.3 554.8h.6M242.0 537.9h.6M281.8 546.7h.6M286.0 545.8h.6M268.3 548.7h.6M260.5 552.8h.6M308.5 545.5h.6M241.3 551.5h.6M288.2 539.1h.6M250.0 542.1h.6M277.2 551.0h.6M249.0 541.3h.6M279.8 535.8h.6M279.0 547.1h.6M306.7 553.9h.6M252.4 546.4h.6M259.0 543.7h.6M266.8 553.7h.6M232.3 546.7h.6M297.4 552.4h.6M247.3 543.2h.6M246.5 538.5h.6M289.9 548.4h.6M249.9 539.5h.6M256.7 545.0h.6M302.3 545.3h.6M267.5 554.3h.6M279.5 546.9h.6M278.0 545.4h.6M263.1 542.4h.6M245.6 539.2h.6M275.9 551.1h.6M268.8 552.6h.6M276.6 548.7h.6M245.9 551.5h.6M290.7 551.7h.6M292.0 545.2h.6M243.8 555.4h.6M252.4 549.4h.6M260.9 548.1h.6M259.2 544.8h.6M226.5 559.2h.6M269.4 536.7h.6M245.4 541.4h.6M249.0 533.0h.6M273.3 516.3h.6M257.2 510.1h.6M273.8 496.5h.6M285.9 493.4h.6M250.7 502.5h.6M286.6 505.8h.6M259.6 499.5h.6M263.8 505.3h.6M276.3 514.6h.6M276.5 505.1h.6M259.0 516.0h.6M265.9 504.9h.6M297.2 515.8h.6M273.1 504.3h.6M249.6 512.3h.6M253.1 511.6h.6M246.7 505.7h.6M269.9 506.0h.6M266.6 507.6h.6M240.0 497.4h.6M259.1 517.4h.6M259.6 498.7h.6M249.1 505.2h.6M285.1 501.1h.6M273.0 506.3h.6M255.0 498.5h.6M259.0 500.1h.6M272.5 493.0h.6M284.0 510.2h.6M273.3 515.2h.6M273.8 493.3h.6M263.0 508.1h.6M248.6 497.3h.6M270.5 508.5h.6M253.7 503.3h.6M252.1 501.1h.6M260.9 512.3h.6M230.6 502.7h.6M293.5 507.2h.6M265.0 510.7h.6M242.4 496.7h.6M229.6 495.0h.6M266.9 510.8h.6M253.9 500.4h.6M269.9 509.2h.6M267.0 492.0h.6M251.4 487.7h.6M266.7 499.2h.6M249.2 515.3h.6M287.8 508.3h.6M267.4 506.2h.6M250.6 504.7h.6M299.2 499.0h.6M249.1 506.1h.6M279.4 510.7h.6M243.2 504.1h.6M256.8 496.6h.6M263.5 501.7h.6M279.9 508.0h.6M246.8 505.6h.6M255.1 500.7h.6M252.5 512.2h.6M254.0 493.3h.6M246.9 510.5h.6M303.9 497.8h.6M255.1 502.8h.6M234.6 507.7h.6M261.0 506.9h.6M305.5 503.2h.6M277.4 510.7h.6M249.6 501.0h.6M292.3 509.9h.6M264.8 497.6h.6M279.2 508.6h.6M304.7 515.0h.6M277.6 506.8h.6M263.2 501.3h.6M268.0 506.7h.6M274.7 512.4h.6M268.1 501.3h.6M277.7 515.6h.6M245.8 507.9h.6M272.7 508.7h.6M271.8 504.4h.6M260.0 516.5h.6M295.7 495.5h.6M248.9 501.5h.6M231.0 507.4h.6M260.9 501.3h.6M279.5 521.5h.6M290.7 513.0h.6M254.0 509.5h.6M261.3 512.9h.6M273.3 504.8h.6M272.7 500.1h.6M277.4 515.2h.6M255.0 508.8h.6M229.6 511.4h.6M279.1 498.1h.6M295.9 505.8h.6M228.4 495.7h.6M279.0 503.2h.6M283.4 494.5h.6M260.1 511.6h.6M248.8 509.6h.6M255.0 507.3h.6M268.3 520.2h.6M237.9 510.3h.6M287.5 497.4h.6M263.6 520.7h.6M282.4 484.8h.6M257.4 493.4h.6M267.9 500.1h.6M251.1 499.3h.6M267.7 501.8h.6M244.4 503.5h.6M269.9 499.2h.6M283.6 493.7h.6M269.9 502.4h.6M292.6 500.6h.6M249.1 495.9h.6M300.6 509.2h.6M240.9 502.7h.6M243.4 515.4h.6M270.1 491.2h.6M266.1 511.2h.6M262.0 508.2h.6M259.9 506.4h.6M266.1 500.2h.6" stroke="#777" stroke-width="0.6" opacity="1.0" fill="none"/>
<path d="M228.2 489.7h.6M287.2 500.7h.6M262.7 517.8h.6M292.6 564.1h.6M249.3 537.1h.6M300.7 523.5h.6M301.2 545.6h.6M249.4 557.4h.6M272.4 492.9h.6M273.7 553.7h.6M267.6 524.7h.6M258.6 558.0h.6M280.6 501.5h.6M253.9 514.5h.6M306.4 542.5h.6M233.0 560.8h.6M225.1 533.6h.6M260.0 544.3h.6M259.8 491.8h.6M268.1 552.9h.6M291.4 514.0h.6M241.6 546.6h.6M292.6 502.4h.6M299.7 567.4h.6M260.1 516.0h.6M284.5 562.1h.6M239.8 509.3h.6M251.0 545.5h.6M238.4 529.9h.6M266.0 540.1h.6M234.6 564.4h.6M310.0 531.1h.6M292.0 499.4h.6M302.1 530.3h.6M288.8 557.0h.6M253.8 561.6h.6M240.3 486.0h.6M266.2 559.5h.6M301.2 564.2h.6M267.0 562.3h.6M271.3 496.1h.6M277.5 551.5h.6M259.3 534.6h.6M244.8 507.2h.6M259.0 527.1h.6M263.2 491.8h.6M222.5 512.6h.6M285.1 546.9h.6M242.9 505.5h.6M267.5 498.7h.6M275.1 559.9h.6M239.8 533.2h.6M285.4 546.9h.6M284.7 543.7h.6M246.0 554.4h.6M303.4 488.4h.6M305.1 521.2h.6M229.6 489.8h.6M292.1 540.9h.6M234.5 522.6h.6M278.2 567.8h.6M251.6 548.4h.6M243.6 500.7h.6M236.2 518.5h.6M276.4 509.5h.6M236.2 502.4h.6M229.5 500.2h.6M249.8 526.4h.6M238.2 524.3h.6M260.7 565.7h.6M264.8 563.4h.6M263.5 500.6h.6M274.1 496.2h.6M236.9 490.2h.6M283.7 565.2h.6M257.5 513.7h.6M259.4 513.6h.6M282.8 516.9h.6M235.4 556.6h.6M272.4 484.5h.6M296.8 545.2h.6M253.2 536.9h.6M303.0 517.7h.6M260.1 509.1h.6M270.8 539.7h.6M286.7 563.7h.6M234.8 514.7h.6M296.9 550.4h.6M273.9 540.9h.6M251.9 563.4h.6" stroke="#bbb" stroke-width="0.6" opacity="1.0" fill="none"/>
<path d="M229 548 C227 538, 230 520, 236 512 C242 505, 256 503, 270 503 C286 503, 300 505, 301 511 C302 518, 296 524, 290 528 C284 532, 292 537, 300 541 C304 546, 302 556, 287 557 C265 557, 240 558, 231 556 C229 554, 229 551, 229 548 Z" fill="#ececec" opacity="0.45"/>
<path d="M229 548 C227 538, 230 520, 236 512 C242 505, 256 503, 270 503 C286 503, 300 505, 301 511 C302 518, 296 524, 290 528 C284 532, 292 537, 300 541 C304 546, 302 556, 287 557 C265 557, 240 558, 231 556 C229 554, 229 551, 229 548 Z" fill="none" stroke="#aaa" stroke-width="0.55" opacity="0.9" transform="translate(262 532) scale(1.0) translate(-262 -532)"/>
<path d="M229 548 C227 538, 230 520, 236 512 C242 505, 256 503, 270 503 C286 503, 300 505, 301 511 C302 518, 296 524, 290 528 C284 532, 292 537, 300 541 C304 546, 302 556, 287 557 C265 557, 240 558, 231 556 C229 554, 229 551, 229 548 Z" fill="none" stroke="#aaa" stroke-width="0.61" opacity="0.9" transform="translate(262 532) scale(0.9) translate(-262 -532)"/>
<path d="M252 541.0 C250 530.0, 262 520.0, 290.0 518.0" stroke="#aaa" stroke-width="0.55" fill="none"/>
<path d="M255 540.4 C253 529.6, 265 520.6, 288.5 518.8" stroke="#aaa" stroke-width="0.55" fill="none"/>
<path d="M258 539.8 C256 529.2, 268 521.2, 287.0 519.6" stroke="#aaa" stroke-width="0.55" fill="none"/>
<path d="M261 539.2 C259 528.8, 271 521.8, 285.5 520.4" stroke="#aaa" stroke-width="0.55" fill="none"/>
<path d="M264 538.6 C262 528.4, 274 522.4, 284.0 521.2" stroke="#aaa" stroke-width="0.55" fill="none"/>
<path d="M235 541 C232 531, 235 522, 244 519 C257 515, 278 508, 292 508 C300 508, 301 515, 293 516.5 C280 518, 263 521, 251 526 C245 529, 243 535, 243 541 Z" fill="none" stroke="#777" stroke-width="0.60" opacity="0.9" transform="translate(266 517) scale(1.08) translate(-266 -517)"/>
<path d="M235 541 C232 531, 235 522, 244 519 C257 515, 278 508, 292 508 C300 508, 301 515, 293 516.5 C280 518, 263 521, 251 526 C245 529, 243 535, 243 541 Z" fill="none" stroke="#777" stroke-width="0.65" opacity="0.9" transform="translate(266 517) scale(1.0) translate(-266 -517)"/>
<path d="M235 541 C232 531, 235 522, 244 519 C257 515, 278 508, 292 508 C300 508, 301 515, 293 516.5 C280 518, 263 521, 251 526 C245 529, 243 535, 243 541 Z" fill="#bbb" opacity="0.35"/>
<path d="M264 514 C274 511.5, 284 510.2, 295 510.6" stroke="#555" stroke-width="2" fill="none" opacity="0.75"/>
<path d="M231 547 C231 541.5, 245 541.5, 255 544 C260 545.5, 264 545.5, 270 543 C280 539.5, 299 540, 299 547 C299 554, 280 555, 270 552 C264 550, 260 550, 255 551 C245 553, 231 553, 231 547 Z" fill="none" stroke="#555" stroke-width="0.73" opacity="0.85" transform="translate(265 547) scale(1.1) translate(-265 -547)"/>
<path d="M231 547 C231 541.5, 245 541.5, 255 544 C260 545.5, 264 545.5, 270 543 C280 539.5, 299 540, 299 547 C299 554, 280 555, 270 552 C264 550, 260 550, 255 551 C245 553, 231 553, 231 547 Z" fill="none" stroke="#555" stroke-width="0.80" opacity="0.85" transform="translate(265 547) scale(1.0) translate(-265 -547)"/>
<path d="M231 547 C231 541.5, 245 541.5, 255 544 C260 545.5, 264 545.5, 270 543 C280 539.5, 299 540, 299 547 C299 554, 280 555, 270 552 C264 550, 260 550, 255 551 C245 553, 231 553, 231 547 Z" fill="none" stroke="#555" stroke-width="0.94" opacity="0.85" transform="translate(265 547) scale(0.85) translate(-265 -547)"/>
<path d="M231 547 C231 541.5, 245 541.5, 255 544 C260 545.5, 264 545.5, 270 543 C280 539.5, 299 540, 299 547 C299 554, 280 555, 270 552 C264 550, 260 550, 255 551 C245 553, 231 553, 231 547 Z" fill="#aaa" opacity="0.35"/>
<path d="M232 548 C236 552, 248 551.5, 256 549" stroke="#222" stroke-width="1.6" fill="none"/>
<path d="M272 551 C282 554, 294 553, 298 548" stroke="#222" stroke-width="1.5" fill="none"/>
<rect x="250.6" y="498.3" width="55.3" height="35.3" fill="none" stroke="#4a4a4a" stroke-width="1.0" />
<path d="M104.4 681.0h.6M118.4 693.2h.6M133.2 668.8h.6M126.5 688.4h.6M102.1 688.4h.6M99.3 711.7h.6M107.3 702.0h.6M131.5 676.2h.6M105.3 688.1h.6M103.5 700.3h.6M118.1 673.9h.6M107.8 697.5h.6M98.7 712.8h.6M106.6 682.9h.6M105.0 711.8h.6M125.8 706.7h.6M123.8 687.4h.6M136.2 696.6h.6M121.2 695.2h.6M124.8 690.4h.6M114.0 660.6h.6M140.6 665.3h.6M90.3 674.6h.6M139.1 705.4h.6M108.8 690.2h.6M115.7 654.4h.6M112.0 690.7h.6M130.0 666.8h.6M89.0 660.9h.6M120.0 687.3h.6M117.8 688.4h.6M111.6 664.2h.6M121.4 692.2h.6M122.9 705.9h.6M101.2 648.6h.6M105.0 692.4h.6M115.8 697.6h.6M154.5 677.7h.6M114.0 676.5h.6M118.9 694.3h.6M104.4 707.1h.6M129.8 693.1h.6M114.7 682.2h.6M96.3 696.5h.6M104.3 678.0h.6M128.0 671.3h.6M109.7 699.7h.6M138.3 675.0h.6M129.2 675.5h.6M120.7 693.7h.6M102.3 702.4h.6M137.6 686.8h.6M119.2 667.2h.6M137.5 687.0h.6M100.7 698.2h.6M98.5 675.0h.6M90.4 708.0h.6M142.5 675.8h.6M108.2 676.8h.6M109.2 694.9h.6M133.5 669.9h.6M121.3 657.2h.6M134.3 684.6h.6M107.6 710.5h.6M114.7 707.9h.6M128.9 712.5h.6M106.4 686.9h.6M120.4 682.9h.6M134.3 674.6h.6M128.0 707.8h.6M92.6 670.5h.6M105.2 677.3h.6M120.7 683.2h.6M116.9 678.7h.6M115.0 693.8h.6M124.9 673.5h.6M114.6 673.8h.6M113.9 663.0h.6M127.5 696.7h.6M114.5 675.1h.6M110.5 675.4h.6M97.5 712.1h.6M155.5 666.3h.6M102.0 695.3h.6M123.3 660.8h.6M92.9 694.7h.6M92.1 708.8h.6M110.1 687.4h.6M116.0 677.0h.6M114.3 681.2h.6M130.9 684.5h.6M115.6 677.5h.6M108.4 674.2h.6M116.1 715.4h.6M129.4 689.8h.6M136.0 702.2h.6M118.5 683.4h.6M102.8 690.0h.6M112.2 660.6h.6M118.6 694.0h.6M118.4 678.6h.6M121.5 703.3h.6M112.3 694.2h.6M128.3 678.3h.6M118.0 674.2h.6M123.2 680.1h.6M129.8 673.8h.6M136.3 681.0h.6M99.6 692.8h.6M114.6 693.2h.6M126.0 710.3h.6M113.2 688.6h.6M107.8 694.2h.6M89.9 703.4h.6M130.0 695.7h.6M116.1 710.3h.6M98.4 697.3h.6M110.7 703.8h.6M96.5 701.7h.6M106.9 707.6h.6M92.0 695.5h.6M103.0 697.5h.6M115.2 695.0h.6M135.4 694.3h.6M116.4 708.2h.6M117.6 698.4h.6M99.7 698.0h.6M114.7 701.0h.6M113.8 704.6h.6M99.2 692.5h.6M122.4 696.1h.6M92.2 714.9h.6M99.7 692.5h.6M117.7 690.9h.6M99.3 708.4h.6M109.3 700.4h.6M101.6 698.2h.6M103.0 699.8h.6M115.7 689.8h.6M98.8 683.3h.6M123.0 699.4h.6M107.9 699.5h.6M118.0 702.6h.6M116.5 698.7h.6M106.8 699.6h.6M89.4 708.7h.6M92.2 692.0h.6M114.7 700.4h.6M116.1 713.6h.6M126.6 711.1h.6M99.2 699.3h.6M118.0 698.3h.6M106.8 697.2h.6M121.6 680.3h.6M120.7 708.5h.6" stroke="#999" stroke-width="0.6" opacity="1.0" fill="none"/>
<path d="M103.6 651.1h.6M107.7 689.6h.6M133.0 714.5h.6M134.7 686.7h.6M120.1 652.1h.6M123.2 681.3h.6M107.4 707.5h.6M103.0 650.6h.6M98.8 651.2h.6M117.3 700.1h.6M98.9 677.7h.6M116.7 682.0h.6M109.7 680.8h.6M92.7 644.4h.6M110.2 657.8h.6M124.5 658.1h.6M127.4 658.1h.6M96.0 675.8h.6M108.7 665.2h.6M124.9 656.7h.6M120.8 702.6h.6M111.5 677.7h.6M131.7 685.3h.6M99.8 645.2h.6M95.5 664.9h.6M95.8 688.7h.6M110.2 663.1h.6M114.0 710.2h.6M102.5 651.6h.6M105.1 664.3h.6M131.1 693.0h.6M110.4 652.4h.6M94.0 649.2h.6M128.4 688.6h.6M98.7 686.9h.6M94.5 678.0h.6M106.4 647.7h.6M123.9 693.8h.6M114.0 652.6h.6M120.8 672.5h.6" stroke="#bbb" stroke-width="0.6" opacity="1.0" fill="none"/>
<path d="M101 708 C96 700, 100 690, 105 685 C108 680, 105 672, 106 664 C107 656, 118 654, 122 661 C126 668, 122 676, 127 680 C133 684, 136 690, 131 698 C126 706, 120 714, 112 714 C106 714, 103 712, 101 708 Z" fill="#e8e8e8" opacity="0.8"/>
<path d="M101 708 C96 700, 100 690, 105 685 C108 680, 105 672, 106 664 C107 656, 118 654, 122 661 C126 668, 122 676, 127 680 C133 684, 136 690, 131 698 C126 706, 120 714, 112 714 C106 714, 103 712, 101 708 Z" fill="none" stroke="#888" stroke-width="0.60" opacity="0.9" transform="translate(117 688) scale(1.0) translate(-117 -688)"/>
<path d="M101 708 C96 700, 100 690, 105 685 C108 680, 105 672, 106 664 C107 656, 118 654, 122 661 C126 668, 122 676, 127 680 C133 684, 136 690, 131 698 C126 706, 120 714, 112 714 C106 714, 103 712, 101 708 Z" fill="none" stroke="#888" stroke-width="0.67" opacity="0.9" transform="translate(117 688) scale(0.9) translate(-117 -688)"/>
<ellipse cx="114.8" cy="671.7" rx="5.50" ry="10.00" fill="none" stroke="#999" stroke-width="0.6" opacity="0.9" transform="rotate(0 114.8 671.7)"/>
<ellipse cx="114.8" cy="671.7" rx="3.85" ry="7.00" fill="none" stroke="#999" stroke-width="0.6" opacity="0.9" transform="rotate(0 114.8 671.7)"/>
<ellipse cx="114.8" cy="671.7" rx="2.20" ry="4.00" fill="none" stroke="#999" stroke-width="0.6" opacity="0.9" transform="rotate(0 114.8 671.7)"/>
<ellipse cx="120.6" cy="695" rx="13" ry="8" fill="url(#gblob)" opacity="0.6" transform="rotate(-52 120.6 695)"/>
<ellipse cx="120.6" cy="695" rx="15.00" ry="9.50" fill="none" stroke="#888" stroke-width="0.55" opacity="0.9" transform="rotate(-52 120.6 695)"/>
<ellipse cx="120.6" cy="695" rx="12.75" ry="8.07" fill="none" stroke="#888" stroke-width="0.55" opacity="0.9" transform="rotate(-52 120.6 695)"/>
<ellipse cx="120.6" cy="695" rx="10.50" ry="6.65" fill="none" stroke="#888" stroke-width="0.55" opacity="0.9" transform="rotate(-52 120.6 695)"/>
<ellipse cx="120.6" cy="695" rx="8.25" ry="5.23" fill="none" stroke="#888" stroke-width="0.55" opacity="0.9" transform="rotate(-52 120.6 695)"/>
<ellipse cx="120.6" cy="695" rx="6.00" ry="3.80" fill="none" stroke="#888" stroke-width="0.55" opacity="0.9" transform="rotate(-52 120.6 695)"/>
<ellipse cx="120.6" cy="695" rx="3.75" ry="2.38" fill="none" stroke="#888" stroke-width="0.55" opacity="0.9" transform="rotate(-52 120.6 695)"/>
<path d="M117 699 L124 691" stroke="#eee" stroke-width="1.1"/>
<path d="M243.0 676.6h.6M246.9 683.0h.6M248.2 703.9h.6M247.8 692.1h.6M240.8 697.5h.6M241.6 671.5h.6M229.9 701.8h.6M239.1 688.9h.6M260.7 694.7h.6M275.2 681.3h.6M258.4 697.9h.6M237.5 685.0h.6M238.7 663.5h.6M249.9 668.5h.6M267.8 669.2h.6M238.9 685.8h.6M239.3 685.1h.6M238.1 655.6h.6M265.8 692.9h.6M248.0 674.7h.6M244.1 690.0h.6M227.9 668.0h.6M234.4 709.2h.6M232.3 707.5h.6M245.0 684.6h.6M263.6 701.5h.6M258.2 662.6h.6M244.7 674.3h.6M231.8 704.3h.6M249.8 684.1h.6M257.4 683.6h.6M265.2 665.0h.6M257.5 664.0h.6M264.3 678.5h.6M261.9 675.7h.6M251.2 706.8h.6M234.3 685.9h.6M235.1 701.0h.6M238.2 676.5h.6M243.4 707.3h.6M232.5 683.5h.6M241.7 673.0h.6M235.8 680.8h.6M248.5 653.1h.6M249.0 660.3h.6M233.4 682.7h.6M242.7 703.6h.6M239.8 648.3h.6M225.1 687.5h.6M249.3 705.3h.6M239.0 697.3h.6M232.2 709.9h.6M245.1 670.4h.6M235.0 659.2h.6M232.8 660.9h.6M245.3 691.0h.6M243.9 687.9h.6M261.4 678.2h.6M229.7 638.3h.6M249.1 670.4h.6M242.8 692.2h.6M252.0 652.6h.6M233.6 685.5h.6M244.1 706.9h.6M239.5 642.7h.6M261.2 651.3h.6M233.4 691.8h.6M249.1 694.7h.6M253.0 669.7h.6M262.3 650.2h.6M238.4 689.8h.6M247.8 664.8h.6M266.5 713.4h.6M233.8 691.5h.6M237.8 675.3h.6M258.8 686.5h.6M244.6 686.1h.6M230.8 708.4h.6M236.2 710.2h.6M240.0 674.9h.6M265.3 687.8h.6M237.7 673.3h.6M254.0 676.1h.6M231.4 670.5h.6M244.5 688.9h.6M237.5 709.6h.6M233.6 669.7h.6M252.5 693.6h.6M240.9 703.2h.6M246.7 710.6h.6M243.4 687.9h.6M252.8 649.1h.6M258.0 690.6h.6M248.5 711.7h.6M250.4 646.2h.6M233.7 678.1h.6M247.9 675.1h.6M258.2 696.0h.6M246.2 685.3h.6M250.7 688.8h.6M236.6 699.6h.6M235.3 683.2h.6M241.3 661.0h.6M253.9 682.6h.6M230.9 682.4h.6M228.1 712.7h.6M238.6 698.1h.6M233.4 667.0h.6M244.8 692.2h.6M258.0 678.7h.6M260.3 703.3h.6M234.7 680.4h.6M238.9 701.6h.6M257.9 678.9h.6M239.7 690.9h.6M236.0 658.8h.6M233.5 690.8h.6M222.3 694.0h.6M231.1 707.0h.6M255.0 686.5h.6M265.1 676.6h.6M239.1 663.1h.6M237.5 686.3h.6M254.7 709.5h.6M242.5 669.5h.6M241.7 675.5h.6M240.0 676.0h.6M234.7 683.0h.6M239.4 680.6h.6M228.1 686.9h.6M253.4 696.9h.6M238.9 661.3h.6M229.2 660.7h.6M237.7 677.8h.6M223.1 697.3h.6M226.1 670.4h.6M236.7 700.5h.6M269.7 677.0h.6M242.5 676.2h.6M243.4 680.6h.6M277.8 662.4h.6M244.6 668.4h.6M250.6 673.7h.6M253.4 662.6h.6M273.2 688.2h.6M223.2 697.9h.6M240.0 661.1h.6M251.7 673.8h.6M255.5 673.2h.6M257.6 687.0h.6M250.6 687.1h.6M241.3 676.9h.6M251.8 698.0h.6M267.8 661.4h.6M260.0 682.6h.6M249.0 668.4h.6M267.2 667.7h.6M245.0 669.7h.6M270.8 708.8h.6M229.1 675.1h.6M250.7 675.5h.6M241.5 662.8h.6M249.2 662.5h.6M250.8 670.8h.6M241.6 665.1h.6M247.5 697.8h.6M257.9 678.5h.6M230.7 682.5h.6M267.5 689.6h.6M245.2 643.2h.6M240.4 694.7h.6M233.9 710.6h.6M238.7 666.9h.6M238.6 682.2h.6M258.8 672.9h.6M223.2 682.5h.6M252.7 714.3h.6M231.6 713.2h.6M254.7 693.0h.6M236.2 666.7h.6M233.8 702.4h.6M248.8 705.0h.6M269.3 684.4h.6M229.3 675.3h.6M241.3 676.6h.6M247.8 667.6h.6M260.9 657.3h.6M235.6 650.9h.6M228.1 695.6h.6M254.0 680.2h.6M256.8 696.2h.6M238.6 683.3h.6M240.4 691.3h.6M253.0 708.0h.6M251.4 705.1h.6M232.4 678.9h.6M221.3 683.1h.6M275.8 688.8h.6M247.1 689.3h.6M247.9 658.2h.6M237.1 680.7h.6M248.2 667.2h.6M244.6 669.8h.6M229.1 671.2h.6M235.7 700.5h.6M263.1 695.4h.6M243.3 673.2h.6M225.9 673.8h.6M266.0 706.7h.6M248.9 679.3h.6M246.1 692.4h.6M245.9 692.5h.6M236.2 685.0h.6M241.5 705.2h.6M230.2 709.5h.6M244.9 674.3h.6M246.3 686.5h.6M243.0 692.4h.6M238.6 651.1h.6M254.9 683.6h.6M267.3 691.7h.6M220.4 708.4h.6M237.2 694.8h.6M274.4 705.4h.6M232.0 682.4h.6M225.5 697.2h.6M253.2 664.1h.6M251.8 702.4h.6M256.3 671.1h.6M237.2 662.3h.6M229.5 690.3h.6M246.5 709.5h.6M249.5 677.9h.6M227.8 714.2h.6M248.1 683.6h.6M233.2 663.7h.6M254.1 665.2h.6M253.5 696.4h.6M241.1 652.6h.6M251.3 711.5h.6M235.5 659.6h.6M259.9 687.0h.6M238.0 708.0h.6M242.5 693.0h.6M240.9 669.6h.6M248.8 667.5h.6M223.4 673.7h.6M261.8 705.5h.6M273.8 703.5h.6M266.6 689.1h.6M240.4 693.2h.6M233.9 698.5h.6M240.3 689.2h.6M235.1 681.6h.6M258.5 680.0h.6M237.4 689.7h.6M257.2 680.6h.6M231.1 653.9h.6M228.9 704.9h.6M244.9 693.5h.6M259.7 689.7h.6M252.2 674.4h.6M225.5 696.4h.6M244.8 695.4h.6M232.4 681.5h.6M271.7 667.9h.6M247.3 709.6h.6M243.0 686.6h.6M240.4 709.1h.6M244.8 677.0h.6M251.6 679.6h.6M239.4 714.1h.6M258.5 686.4h.6M256.3 700.2h.6M253.4 685.1h.6M246.9 692.1h.6M253.2 691.1h.6M239.0 682.8h.6M251.8 665.3h.6M245.9 698.9h.6M248.2 678.8h.6M245.7 674.9h.6M258.5 677.0h.6M224.8 661.0h.6M249.8 688.3h.6M240.0 659.0h.6M244.1 668.1h.6M237.6 684.3h.6M236.2 690.3h.6M236.6 675.4h.6M243.1 712.3h.6M266.1 702.4h.6M236.6 684.4h.6M257.6 699.8h.6M225.3 683.2h.6M236.6 698.7h.6M254.1 674.0h.6M273.3 679.0h.6M277.1 681.1h.6M239.3 675.3h.6M264.8 683.5h.6M252.1 660.2h.6M268.8 703.1h.6M250.5 697.8h.6M239.6 675.2h.6M226.0 691.4h.6M261.7 700.7h.6M257.7 697.9h.6M234.3 659.4h.6M254.2 687.5h.6M258.5 679.1h.6M234.8 692.8h.6M238.9 653.0h.6M238.3 667.6h.6M231.8 673.8h.6M268.0 676.4h.6M260.5 683.0h.6M251.1 671.4h.6M245.1 652.3h.6M268.8 669.7h.6M253.4 673.1h.6M249.4 661.9h.6M241.2 701.7h.6M253.6 647.3h.6M256.8 659.3h.6M249.6 694.2h.6M237.8 678.3h.6M242.9 692.0h.6M257.6 710.3h.6M242.7 698.9h.6M244.4 685.9h.6M234.3 691.7h.6M271.8 687.2h.6M245.7 684.4h.6M255.1 680.5h.6M245.9 688.4h.6M262.6 702.4h.6M232.6 672.3h.6M246.3 700.4h.6M258.3 680.4h.6M273.1 681.2h.6M263.9 711.4h.6M266.3 688.2h.6M253.3 655.3h.6M223.4 672.7h.6M255.2 704.6h.6M244.7 704.1h.6M253.4 713.3h.6M225.7 668.6h.6M233.8 664.5h.6M267.0 666.8h.6M235.5 676.8h.6M257.3 675.6h.6M255.4 694.8h.6M237.9 639.4h.6M234.3 660.6h.6M266.8 670.7h.6M232.4 691.5h.6M246.7 666.5h.6M259.9 701.7h.6M249.6 669.9h.6M234.9 645.4h.6M250.9 691.8h.6M234.3 684.8h.6M287.8 662.9h.6M224.3 695.9h.6M240.6 674.9h.6M253.9 681.8h.6M258.7 694.1h.6M260.8 686.6h.6M224.3 704.1h.6M249.2 657.9h.6M246.8 701.0h.6M233.0 685.1h.6M236.6 665.2h.6M238.1 708.5h.6M254.7 683.7h.6M245.0 686.7h.6M249.7 687.8h.6M224.1 701.7h.6M235.1 634.7h.6M255.0 661.3h.6M244.2 682.5h.6M238.5 694.4h.6M242.5 678.9h.6M233.8 678.9h.6M232.8 685.0h.6M262.9 703.4h.6M251.5 658.3h.6M246.1 709.0h.6M256.2 678.7h.6M236.2 696.9h.6M246.7 689.8h.6M245.8 681.1h.6M236.2 713.1h.6M229.9 705.8h.6M237.0 686.2h.6M229.8 710.9h.6M247.6 694.4h.6M247.1 693.3h.6M238.4 699.9h.6M223.7 703.2h.6M232.2 674.0h.6M227.9 692.0h.6M227.8 690.8h.6M229.2 676.7h.6M244.8 700.8h.6M238.5 697.5h.6M236.6 697.6h.6M225.3 685.6h.6M236.7 709.8h.6M238.3 715.4h.6M222.6 697.5h.6M229.9 711.8h.6M252.7 695.1h.6M243.2 697.8h.6M226.2 699.0h.6M225.8 714.8h.6M241.8 711.4h.6M239.5 676.9h.6M243.9 700.9h.6M225.9 707.6h.6M239.3 698.4h.6M233.2 705.1h.6M241.7 706.3h.6M232.0 687.4h.6M249.0 712.5h.6M230.4 699.7h.6M243.9 683.2h.6M238.7 693.3h.6M256.1 700.1h.6M238.1 696.0h.6M237.8 682.9h.6M223.4 685.9h.6M244.9 699.2h.6M247.3 680.5h.6M230.1 714.0h.6M228.2 682.2h.6M228.7 696.7h.6M235.9 712.5h.6M249.1 714.9h.6M241.7 695.2h.6M231.1 685.9h.6M248.5 712.0h.6M236.9 691.5h.6M242.6 704.7h.6M237.5 688.9h.6M238.4 694.6h.6M243.3 705.7h.6M240.3 695.9h.6M251.0 707.4h.6M248.5 708.1h.6M242.5 703.8h.6M225.5 682.6h.6M226.8 705.9h.6M245.0 701.8h.6M232.1 682.9h.6M220.8 696.9h.6M242.9 707.1h.6M233.8 707.8h.6M235.5 693.1h.6M232.3 707.3h.6M245.4 689.2h.6M226.3 701.2h.6M256.9 688.8h.6M223.7 704.0h.6M241.0 694.1h.6M235.7 704.7h.6M241.9 708.9h.6M247.4 699.3h.6M221.9 712.9h.6M243.6 693.9h.6M246.2 710.0h.6M234.6 677.4h.6M231.4 692.8h.6M227.8 699.2h.6M225.4 703.7h.6M254.5 688.6h.6M246.2 694.9h.6M241.3 698.8h.6M248.6 693.2h.6M243.2 692.6h.6M238.2 699.9h.6M258.7 644.9h.6M234.8 673.3h.6M251.8 676.3h.6M237.9 662.0h.6M253.9 676.9h.6M247.5 655.7h.6M255.0 659.0h.6M240.7 667.3h.6M229.4 650.3h.6M261.3 655.2h.6M244.8 663.6h.6M259.0 665.1h.6M238.6 654.6h.6M258.3 658.9h.6M241.8 668.4h.6M259.2 680.9h.6M237.5 653.2h.6M241.2 663.4h.6M243.3 670.7h.6M221.7 669.2h.6M241.7 657.4h.6M253.6 661.9h.6M238.1 674.4h.6M253.6 655.3h.6M250.0 649.4h.6M236.0 657.1h.6M251.6 661.0h.6M240.4 646.7h.6M231.6 675.3h.6M251.6 652.3h.6M259.6 665.2h.6M244.0 654.1h.6M259.1 663.1h.6M264.0 663.5h.6M242.3 654.3h.6M241.1 662.4h.6M250.5 665.8h.6M252.4 649.9h.6M246.0 651.0h.6M252.7 647.4h.6M242.3 651.8h.6M242.0 657.5h.6M262.7 657.5h.6M234.0 657.1h.6M255.3 665.3h.6M250.3 679.1h.6M258.8 660.9h.6M259.8 647.2h.6M246.4 651.7h.6M249.7 675.5h.6M243.2 675.3h.6M238.1 673.7h.6M231.5 651.9h.6M257.7 659.1h.6M249.4 659.9h.6M249.8 658.3h.6M238.5 657.2h.6M249.1 651.4h.6M252.5 676.9h.6M232.0 654.8h.6M245.3 660.2h.6M248.9 653.0h.6M247.7 660.1h.6M247.2 674.8h.6M249.3 645.8h.6M232.8 665.7h.6M244.7 654.1h.6M234.8 657.0h.6M247.1 653.4h.6M244.6 668.5h.6M255.6 665.2h.6M246.3 647.0h.6M255.5 674.4h.6M260.4 671.2h.6M250.7 663.6h.6M247.9 672.0h.6M245.4 680.6h.6M255.6 656.9h.6M248.0 644.6h.6M240.9 657.1h.6M271.8 652.2h.6M256.9 660.7h.6M245.1 666.0h.6M228.6 669.1h.6M266.8 662.8h.6M247.4 661.5h.6M254.4 655.3h.6M249.2 664.8h.6M244.6 663.7h.6M251.2 666.9h.6" stroke="#888" stroke-width="0.6" opacity="1.0" fill="none"/>
<path d="M250.9 667.9h.6M237.3 674.7h.6M260.7 691.5h.6M239.2 708.0h.6M261.6 677.8h.6M245.8 658.0h.6M228.7 705.3h.6M252.4 638.4h.6M268.3 705.4h.6M223.7 689.5h.6M233.9 675.5h.6M263.7 659.8h.6M246.9 686.5h.6M231.6 683.3h.6M243.3 713.5h.6M231.4 690.4h.6M224.1 653.3h.6M227.9 642.7h.6M248.4 644.8h.6M261.7 638.2h.6M253.1 703.2h.6M228.3 648.5h.6M260.2 670.0h.6M268.6 658.7h.6M241.9 711.4h.6M239.2 712.1h.6M266.6 647.0h.6M249.3 710.0h.6M227.9 702.1h.6M260.7 693.7h.6M252.0 638.5h.6M269.9 638.7h.6M261.2 691.5h.6M237.9 688.2h.6M242.5 693.8h.6M224.2 709.3h.6M241.2 698.3h.6M245.6 699.1h.6M237.1 676.3h.6M223.3 671.6h.6M226.0 703.0h.6M255.9 666.1h.6M270.7 710.5h.6M269.8 637.0h.6M257.2 691.8h.6M252.3 631.3h.6M268.2 667.3h.6M251.8 699.3h.6M235.8 632.5h.6M268.2 653.0h.6M224.1 641.6h.6M271.7 692.9h.6M232.5 642.5h.6M266.9 686.5h.6M251.2 641.1h.6M242.7 710.5h.6M222.2 665.6h.6M224.9 714.8h.6M227.2 711.1h.6M264.1 692.2h.6M224.1 689.1h.6M246.6 671.8h.6M229.3 673.5h.6M262.1 641.2h.6M265.8 665.7h.6M235.3 650.3h.6M245.0 685.0h.6M250.5 705.7h.6M247.6 673.6h.6M271.4 648.3h.6M222.8 657.9h.6M237.7 640.5h.6M242.9 632.9h.6M268.0 671.2h.6M265.9 689.3h.6M258.5 694.5h.6M237.1 692.0h.6M232.3 677.2h.6M251.8 695.9h.6M230.4 659.2h.6" stroke="#aaa" stroke-width="0.6" opacity="1.0" fill="none"/>
<path d="M243.7 704.0 C240.2 694.0, 241.1 680.0, 245.3 671.0 C248.8 664.0, 256.4 662.0, 258.9 669.0 C262.4 678.0, 265.8 690.0, 264.9 702.0 C264.1 711.0, 258.9 714.0, 252.2 714.0 C247.1 714.0, 244.5 710.0, 243.7 704.0 Z" fill="#e0e0e0" opacity="0.9"/>
<path d="M243.7 704.0 C240.2 694.0, 241.1 680.0, 245.3 671.0 C248.8 664.0, 256.4 662.0, 258.9 669.0 C262.4 678.0, 265.8 690.0, 264.9 702.0 C264.1 711.0, 258.9 714.0, 252.2 714.0 C247.1 714.0, 244.5 710.0, 243.7 704.0 Z" fill="none" stroke="#777" stroke-width="0.60" opacity="0.9" transform="translate(253 690) scale(1.0) translate(-253 -690)"/>
<path d="M243.7 704.0 C240.2 694.0, 241.1 680.0, 245.3 671.0 C248.8 664.0, 256.4 662.0, 258.9 669.0 C262.4 678.0, 265.8 690.0, 264.9 702.0 C264.1 711.0, 258.9 714.0, 252.2 714.0 C247.1 714.0, 244.5 710.0, 243.7 704.0 Z" fill="none" stroke="#777" stroke-width="0.67" opacity="0.9" transform="translate(253 690) scale(0.9) translate(-253 -690)"/>
<path d="M243.7 704.0 C240.2 694.0, 241.1 680.0, 245.3 671.0 C248.8 664.0, 256.4 662.0, 258.9 669.0 C262.4 678.0, 265.8 690.0, 264.9 702.0 C264.1 711.0, 258.9 714.0, 252.2 714.0 C247.1 714.0, 244.5 710.0, 243.7 704.0 Z" fill="none" stroke="#777" stroke-width="0.75" opacity="0.9" transform="translate(253 690) scale(0.8) translate(-253 -690)"/>
<path d="M243.7 704.0 C240.2 694.0, 241.1 680.0, 245.3 671.0 C248.8 664.0, 256.4 662.0, 258.9 669.0 C262.4 678.0, 265.8 690.0, 264.9 702.0 C264.1 711.0, 258.9 714.0, 252.2 714.0 C247.1 714.0, 244.5 710.0, 243.7 704.0 Z" fill="none" stroke="#777" stroke-width="0.86" opacity="0.9" transform="translate(253 690) scale(0.7) translate(-253 -690)"/>
<ellipse cx="253" cy="678" rx="5.00" ry="8.00" fill="none" stroke="#999" stroke-width="0.55" opacity="0.9" transform="rotate(0 253 678)"/>
<ellipse cx="253" cy="678" rx="3.50" ry="5.60" fill="none" stroke="#999" stroke-width="0.55" opacity="0.9" transform="rotate(0 253 678)"/>
<ellipse cx="253" cy="678" rx="2.00" ry="3.20" fill="none" stroke="#999" stroke-width="0.55" opacity="0.9" transform="rotate(0 253 678)"/>
<ellipse cx="252" cy="697" rx="5.5" ry="12" fill="url(#gblob)" opacity="0.5" transform="rotate(18 252 697)"/>
<path d="M249 702 L254 690" stroke="#eee" stroke-width="1.1"/>
<path d="M131.6 690.4 V650.6 H138.9 V712.1 H166.8 V690.4 H131.6" fill="none" stroke="#484848" stroke-width="1.0"/>
<path d="M262.9 690.4 V650.6 H270.20000000000005 V712.1 H298.1 V690.4 H262.9" fill="none" stroke="#484848" stroke-width="1.0"/>
<line x1="54.5" y1="559" x2="54.5" y2="602.6" stroke="#1a1a1a" stroke-width="1.2" />
<line x1="54.5" y1="602.6" x2="208" y2="602.6" stroke="#1a1a1a" stroke-width="1.2" />
<polygon points="54.5,555.5 51.2,563.5 54.5,562.2 57.8,563.5" fill="#1a1a1a"/>
<polygon points="212.1,602.6 204.1,599.3000000000001 205.4,602.6 204.1,605.9" fill="#1a1a1a"/>
<text x="216.8" y="606.8" font-size="12.5" text-anchor="start" fill="#1a1a1a" textLength="57.9" lengthAdjust="spacingAndGlyphs" stroke="#1a1a1a" stroke-width="0.15">CD25-BV421</text>
<line x1="54.5" y1="700" x2="54.5" y2="746.3" stroke="#1a1a1a" stroke-width="1.2" />
<line x1="54.5" y1="746.3" x2="208.5" y2="746.3" stroke="#1a1a1a" stroke-width="1.2" />
<polygon points="54.5,696.3 51.2,704.3 54.5,703.0 57.8,704.3" fill="#1a1a1a"/>
<polygon points="212.9,746.3 204.9,743.0 206.20000000000002,746.3 204.9,749.5999999999999" fill="#1a1a1a"/>
<text x="218.3" y="750.6" font-size="12.5" text-anchor="start" fill="#1a1a1a" textLength="58.7" lengthAdjust="spacingAndGlyphs" stroke="#1a1a1a" stroke-width="0.15">FoxP3-Ax647</text>
<text x="58.1" y="549.5" font-size="12.3" text-anchor="start" fill="#1a1a1a" textLength="59.2" lengthAdjust="spacingAndGlyphs" transform="rotate(-90 58.1 549.5)" stroke="#1a1a1a" stroke-width="0.35">CD4·APC·Cy7</text>
<text x="58.1" y="690.3" font-size="12.3" text-anchor="start" fill="#1a1a1a" textLength="50.6" lengthAdjust="spacingAndGlyphs" transform="rotate(-90 58.1 690.3)" stroke="#1a1a1a" stroke-width="0.35">CD45RA·PE</text>
<line x1="165.1" y1="533.9" x2="165.1" y2="617" stroke="#c81d74" stroke-width="1.35" />
<polygon points="165.10,623.00 161.50,615.50 165.10,617.30 168.70,615.50" fill="#c81d74"/>
<line x1="295.9" y1="533.9" x2="295.9" y2="617" stroke="#c81d74" stroke-width="1.35" />
<polygon points="295.90,623.00 292.30,615.50 295.90,617.30 299.50,615.50" fill="#c81d74"/>
<text x="382.8" y="417.3" font-size="12.3" text-anchor="start" fill="#1a1a1a" textLength="66" lengthAdjust="spacingAndGlyphs" >K562/CD20</text>
<line x1="373" y1="426" x2="458.5" y2="426" stroke="#111" stroke-width="1.4" />
<text x="382.5" y="599.4" font-size="12.3" text-anchor="start" fill="#1a1a1a" textLength="67.4" lengthAdjust="spacingAndGlyphs" >K562/CD38</text>
<line x1="373" y1="607" x2="458.5" y2="607" stroke="#111" stroke-width="1.4" />
<line x1="377" y1="430.1" x2="377" y2="525.3000000000001" stroke="#111" stroke-width="1.5" />
<line x1="372.7" y1="524.6" x2="461" y2="524.6" stroke="#111" stroke-width="1.5" />
<line x1="372.8" y1="434.6" x2="377" y2="434.6" stroke="#111" stroke-width="1.1" />
<text x="368.4" y="437.5" font-size="9.3" text-anchor="end" fill="#1a1a1a" >4</text>
<line x1="372.8" y1="457.1" x2="377" y2="457.1" stroke="#111" stroke-width="1.1" />
<text x="368.4" y="460.0" font-size="9.3" text-anchor="end" fill="#1a1a1a" >3</text>
<line x1="372.8" y1="479.6" x2="377" y2="479.6" stroke="#111" stroke-width="1.1" />
<text x="368.4" y="482.5" font-size="9.3" text-anchor="end" fill="#1a1a1a" >2</text>
<line x1="372.8" y1="502.1" x2="377" y2="502.1" stroke="#111" stroke-width="1.1" />
<text x="368.4" y="505.0" font-size="9.3" text-anchor="end" fill="#1a1a1a" >1</text>
<line x1="372.8" y1="524.6" x2="377" y2="524.6" stroke="#111" stroke-width="1.1" />
<text x="368.4" y="527.5" font-size="9.3" text-anchor="end" fill="#1a1a1a" >0</text>
<line x1="398.2" y1="524.6" x2="398.2" y2="529.0" stroke="#111" stroke-width="1.1" />
<line x1="440" y1="524.6" x2="440" y2="529.0" stroke="#111" stroke-width="1.1" />
<line x1="378.2" y1="472.4" x2="406.4" y2="472.4" stroke="#444" stroke-width="1.0" />
<line x1="424" y1="472.4" x2="453.5" y2="472.4" stroke="#444" stroke-width="1.0" />
<text x="392" y="469.79999999999995" font-size="9" text-anchor="middle" fill="#333" >n.s.</text>
<text x="438" y="469.79999999999995" font-size="9" text-anchor="middle" fill="#333" >n.s.</text>
<circle cx="390.4" cy="505.4" r="2.4" fill="#fff" stroke="#1a1a1a" stroke-width="0.95"/>
<circle cx="387.3" cy="512.2" r="2.4" fill="#fff" stroke="#1a1a1a" stroke-width="0.95"/>
<circle cx="393.8" cy="510" r="2.4" fill="#fff" stroke="#1a1a1a" stroke-width="0.95"/>
<circle cx="393.5" cy="518.1" r="2.4" fill="#fff" stroke="#1a1a1a" stroke-width="0.95"/>
<circle cx="387.7" cy="521.9" r="2.4" fill="#fff" stroke="#1a1a1a" stroke-width="0.95"/>
<line x1="385.8" y1="513.5" x2="395.8" y2="513.5" stroke="#222" stroke-width="1.1" />
<line x1="390.8" y1="510" x2="390.8" y2="516.8" stroke="#222" stroke-width="1.1" />
<line x1="388.3" y1="510" x2="393.3" y2="510" stroke="#222" stroke-width="1.1" />
<line x1="388.3" y1="516.8" x2="393.3" y2="516.8" stroke="#222" stroke-width="1.1" />
<circle cx="406.2" cy="478.3" r="2.05" fill="#1f4784" stroke="#0f2c5a" stroke-width="0.75"/>
<circle cx="406.2" cy="490.4" r="2.05" fill="#1f4784" stroke="#0f2c5a" stroke-width="0.75"/>
<circle cx="403.5" cy="503.8" r="2.05" fill="#1f4784" stroke="#0f2c5a" stroke-width="0.75"/>
<circle cx="409.2" cy="505.2" r="2.05" fill="#1f4784" stroke="#0f2c5a" stroke-width="0.75"/>
<circle cx="403.1" cy="508.5" r="2.05" fill="#1f4784" stroke="#0f2c5a" stroke-width="0.75"/>
<line x1="401.2" y1="497.3" x2="411.2" y2="497.3" stroke="#222" stroke-width="1.1" />
<line x1="406.2" y1="490.4" x2="406.2" y2="502.3" stroke="#222" stroke-width="1.1" />
<line x1="403.59999999999997" y1="490.4" x2="408.8" y2="490.4" stroke="#222" stroke-width="1.1" />
<line x1="403.59999999999997" y1="502.3" x2="408.8" y2="502.3" stroke="#222" stroke-width="1.1" />
<circle cx="429.3" cy="524.3" r="2.4" fill="#fff" stroke="#1a1a1a" stroke-width="0.95"/>
<circle cx="432.5" cy="524.3" r="2.4" fill="#fff" stroke="#1a1a1a" stroke-width="0.95"/>
<circle cx="436.2" cy="524.3" r="2.4" fill="#fff" stroke="#1a1a1a" stroke-width="0.95"/>
<circle cx="445.3" cy="524" r="2.05" fill="#1f4784" stroke="#0f2c5a" stroke-width="0.75"/>
<circle cx="448" cy="522.5" r="2.05" fill="#1f4784" stroke="#0f2c5a" stroke-width="0.75"/>
<circle cx="451" cy="524" r="2.05" fill="#1f4784" stroke="#0f2c5a" stroke-width="0.75"/>
<text font-size="9.4" fill="#222" text-anchor="end" transform="translate(403.70 540.90) rotate(-45)">CD45RA<tspan font-size="6" dy="-4">+</tspan></text>
<text font-size="9.4" fill="#222" text-anchor="end" transform="translate(408.70 551.10) rotate(-45)">FoxP3<tspan font-size="6" dy="-4">+</tspan></text>
<text font-size="9.4" fill="#222" text-anchor="end" transform="translate(445.50 540.90) rotate(-45)">CD45RA<tspan font-size="6" dy="-4">−</tspan></text>
<text font-size="9.4" fill="#222" text-anchor="end" transform="translate(450.50 551.10) rotate(-45)">FoxP3<tspan font-size="6" dy="-4">+</tspan></text>
<line x1="377.1" y1="611.3" x2="377.1" y2="706.6" stroke="#111" stroke-width="1.5" />
<line x1="372.7" y1="705.9" x2="461" y2="705.9" stroke="#111" stroke-width="1.5" />
<line x1="372.90000000000003" y1="615.8" x2="377.1" y2="615.8" stroke="#111" stroke-width="1.1" />
<text x="368.5" y="618.6999999999999" font-size="9.3" text-anchor="end" fill="#1a1a1a" >4</text>
<line x1="372.90000000000003" y1="638.3249999999999" x2="377.1" y2="638.3249999999999" stroke="#111" stroke-width="1.1" />
<text x="368.5" y="641.2249999999999" font-size="9.3" text-anchor="end" fill="#1a1a1a" >3</text>
<line x1="372.90000000000003" y1="660.8499999999999" x2="377.1" y2="660.8499999999999" stroke="#111" stroke-width="1.1" />
<text x="368.5" y="663.7499999999999" font-size="9.3" text-anchor="end" fill="#1a1a1a" >2</text>
<line x1="372.90000000000003" y1="683.375" x2="377.1" y2="683.375" stroke="#111" stroke-width="1.1" />
<text x="368.5" y="686.275" font-size="9.3" text-anchor="end" fill="#1a1a1a" >1</text>
<line x1="372.90000000000003" y1="705.9" x2="377.1" y2="705.9" stroke="#111" stroke-width="1.1" />
<text x="368.5" y="708.8" font-size="9.3" text-anchor="end" fill="#1a1a1a" >0</text>
<line x1="398.2" y1="705.9" x2="398.2" y2="710.3" stroke="#111" stroke-width="1.1" />
<line x1="440" y1="705.9" x2="440" y2="710.3" stroke="#111" stroke-width="1.1" />
<line x1="378.2" y1="650.1" x2="406.4" y2="650.1" stroke="#444" stroke-width="1.0" />
<line x1="424" y1="650.1" x2="453.5" y2="650.1" stroke="#444" stroke-width="1.0" />
<text x="392" y="647.5" font-size="9" text-anchor="middle" fill="#333" >n.s.</text>
<text x="438" y="647.5" font-size="9" text-anchor="middle" fill="#333" >n.s.</text>
<circle cx="388.8" cy="685.8" r="2.4" fill="#fff" stroke="#1a1a1a" stroke-width="0.95"/>
<circle cx="391.2" cy="688.1" r="2.4" fill="#fff" stroke="#1a1a1a" stroke-width="0.95"/>
<circle cx="393.5" cy="697.3" r="2.4" fill="#fff" stroke="#1a1a1a" stroke-width="0.95"/>
<circle cx="390.8" cy="697.7" r="2.4" fill="#fff" stroke="#1a1a1a" stroke-width="0.95"/>
<circle cx="388.1" cy="700.8" r="2.4" fill="#fff" stroke="#1a1a1a" stroke-width="0.95"/>
<line x1="385.5" y1="693.8" x2="395.5" y2="693.8" stroke="#222" stroke-width="1.1" />
<line x1="390.5" y1="690.4" x2="390.5" y2="696.2" stroke="#222" stroke-width="1.1" />
<line x1="388.0" y1="690.4" x2="393.0" y2="690.4" stroke="#222" stroke-width="1.1" />
<line x1="388.0" y1="696.2" x2="393.0" y2="696.2" stroke="#222" stroke-width="1.1" />
<circle cx="406.2" cy="670.8" r="2.05" fill="#3aa53a" stroke="#1f6b1f" stroke-width="0.75"/>
<circle cx="406.2" cy="682.7" r="2.05" fill="#3aa53a" stroke="#1f6b1f" stroke-width="0.75"/>
<circle cx="403.8" cy="691.5" r="2.05" fill="#3aa53a" stroke="#1f6b1f" stroke-width="0.75"/>
<circle cx="408.8" cy="695" r="2.05" fill="#3aa53a" stroke="#1f6b1f" stroke-width="0.75"/>
<circle cx="403.8" cy="699.8" r="2.05" fill="#3aa53a" stroke="#1f6b1f" stroke-width="0.75"/>
<line x1="401.2" y1="688.3" x2="411.2" y2="688.3" stroke="#222" stroke-width="1.1" />
<line x1="406.2" y1="682.7" x2="406.2" y2="693" stroke="#222" stroke-width="1.1" />
<line x1="403.59999999999997" y1="682.7" x2="408.8" y2="682.7" stroke="#222" stroke-width="1.1" />
<line x1="403.59999999999997" y1="693" x2="408.8" y2="693" stroke="#222" stroke-width="1.1" />
<circle cx="429.3" cy="705.6" r="2.4" fill="#fff" stroke="#1a1a1a" stroke-width="0.95"/>
<circle cx="432.5" cy="705.6" r="2.4" fill="#fff" stroke="#1a1a1a" stroke-width="0.95"/>
<circle cx="436.2" cy="705.6" r="2.4" fill="#fff" stroke="#1a1a1a" stroke-width="0.95"/>
<circle cx="445.3" cy="705.4" r="2.05" fill="#3aa53a" stroke="#1f6b1f" stroke-width="0.75"/>
<circle cx="448" cy="704.5" r="2.05" fill="#3aa53a" stroke="#1f6b1f" stroke-width="0.75"/>
<circle cx="451" cy="705.4" r="2.05" fill="#3aa53a" stroke="#1f6b1f" stroke-width="0.75"/>
<text font-size="9.4" fill="#222" text-anchor="end" transform="translate(403.70 722.20) rotate(-45)">CD45RA<tspan font-size="6" dy="-4">+</tspan></text>
<text font-size="9.4" fill="#222" text-anchor="end" transform="translate(408.70 732.40) rotate(-45)">FoxP3<tspan font-size="6" dy="-4">+</tspan></text>
<text font-size="9.4" fill="#222" text-anchor="end" transform="translate(445.50 722.20) rotate(-45)">CD45RA<tspan font-size="6" dy="-4">−</tspan></text>
<text font-size="9.4" fill="#222" text-anchor="end" transform="translate(450.50 732.40) rotate(-45)">FoxP3<tspan font-size="6" dy="-4">+</tspan></text>
<text x="339.5" y="476.9" font-size="12.2" text-anchor="middle" fill="#1a1a1a" textLength="58.6" lengthAdjust="spacingAndGlyphs" transform="rotate(-90 339.5 476.9)" stroke="#1a1a1a" stroke-width="0.22">Frequency in</text>
<text x="355" y="479" font-size="12.2" text-anchor="middle" fill="#1a1a1a" textLength="97.7" lengthAdjust="spacingAndGlyphs" transform="rotate(-90 355 479)" stroke="#1a1a1a" stroke-width="0.22">CD4<tspan font-size="8.8" dy="-4.7">+</tspan><tspan dy="4.7">CD25</tspan><tspan font-size="8.8" dy="-4.7">+</tspan><tspan dy="4.7"> cells (%)</tspan></text>
<text x="339.5" y="658.4" font-size="12.2" text-anchor="middle" fill="#1a1a1a" textLength="58.6" lengthAdjust="spacingAndGlyphs" transform="rotate(-90 339.5 658.4)" stroke="#1a1a1a" stroke-width="0.22">Frequency in</text>
<text x="355" y="660.5" font-size="12.2" text-anchor="middle" fill="#1a1a1a" textLength="97.7" lengthAdjust="spacingAndGlyphs" transform="rotate(-90 355 660.5)" stroke="#1a1a1a" stroke-width="0.22">CD4<tspan font-size="8.8" dy="-4.7">+</tspan><tspan dy="4.7">CD25</tspan><tspan font-size="8.8" dy="-4.7">+</tspan><tspan dy="4.7"> cells (%)</tspan></text>
<circle cx="368.9" cy="770.3" r="2.5" fill="#fff" stroke="#1a1a1a" stroke-width="0.95"/>
<text x="377.2" y="772.8" font-size="9.8" text-anchor="start" fill="#222" textLength="64.3" lengthAdjust="spacingAndGlyphs" >Isotype/B-BiTE</text>
<circle cx="369.1" cy="785.1" r="2.55" fill="#1f4784" stroke="#0f2c5a" stroke-width="0.75"/>
<text x="377.2" y="788" font-size="9.8" text-anchor="start" fill="#222" textLength="75.9" lengthAdjust="spacingAndGlyphs" >Rituximab/B-BiTE</text>
<circle cx="369.1" cy="800.4" r="2.55" fill="#3aa53a" stroke="#1f6b1f" stroke-width="0.75"/>
<text x="377.2" y="803" font-size="9.8" text-anchor="start" fill="#222" textLength="94.8" lengthAdjust="spacingAndGlyphs" >Daratumumab/B-BiTE</text>
</svg></body></html>
